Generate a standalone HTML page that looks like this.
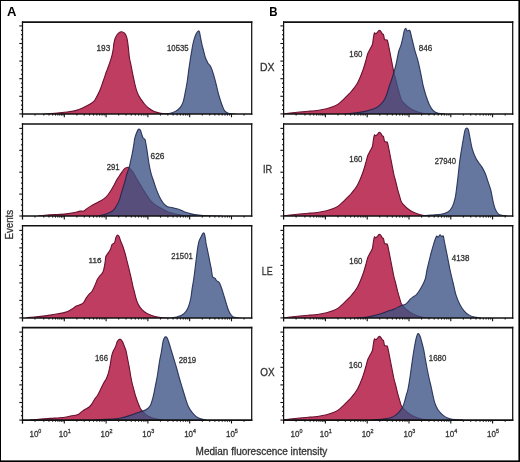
<!DOCTYPE html>
<html><head><meta charset="utf-8"><style>
html,body{margin:0;padding:0;background:#fff;}
body{width:520px;height:462px;overflow:hidden;font-family:"Liberation Sans",sans-serif;}
svg{display:block;will-change:transform;}
</style></head><body>
<svg width="520" height="462" viewBox="0 0 520 462" font-family="Liberation Sans, sans-serif">
<rect x="0" y="0" width="520" height="462" fill="#fff"/>
<defs><clipPath id="pc1"><rect x="22.50" y="22.10" width="229.20" height="91.80"/></clipPath><clipPath id="pc2"><rect x="22.50" y="124.00" width="229.20" height="92.00"/></clipPath><clipPath id="pc3"><rect x="22.50" y="225.80" width="229.20" height="92.10"/></clipPath><clipPath id="pc4"><rect x="22.50" y="327.60" width="229.20" height="92.50"/></clipPath><clipPath id="pc5"><rect x="283.60" y="22.10" width="229.10" height="91.80"/></clipPath><clipPath id="pc6"><rect x="283.60" y="124.00" width="229.10" height="92.00"/></clipPath><clipPath id="pc7"><rect x="283.60" y="225.80" width="229.10" height="92.10"/></clipPath><clipPath id="pc8"><rect x="283.60" y="327.60" width="229.10" height="92.50"/></clipPath></defs>
<g clip-path="url(#pc1)">
<path d="M44.00,114.00 C44.68,113.95 45.85,113.85 48.10,113.70 C50.35,113.55 54.37,113.38 57.50,113.10 C60.63,112.82 63.77,112.45 66.90,112.00 C70.03,111.55 73.60,111.12 76.30,110.40 C79.00,109.68 80.85,108.72 83.10,107.70 C85.35,106.68 88.02,105.38 89.80,104.30 C91.58,103.22 92.90,101.98 93.80,101.20 C94.70,100.42 94.18,101.43 95.20,99.60 C96.22,97.77 98.55,93.33 99.90,90.20 C101.25,87.07 102.23,83.83 103.30,80.80 C104.37,77.77 105.45,74.38 106.30,72.00 C107.15,69.62 107.72,68.38 108.40,66.50 C109.08,64.62 109.80,62.57 110.40,60.70 C111.00,58.83 111.55,57.10 112.00,55.30 C112.45,53.50 112.78,51.88 113.10,49.90 C113.42,47.92 113.53,45.38 113.90,43.40 C114.27,41.42 114.62,39.62 115.30,38.00 C115.98,36.38 117.02,34.75 118.00,33.70 C118.98,32.65 120.12,31.80 121.20,31.70 C122.28,31.60 123.60,32.23 124.50,33.10 C125.40,33.97 126.07,35.37 126.60,36.90 C127.13,38.43 127.37,40.13 127.70,42.30 C128.03,44.47 128.32,47.37 128.60,49.90 C128.88,52.43 129.00,54.98 129.40,57.50 C129.80,60.02 130.57,62.85 131.00,65.00 C131.43,67.15 131.65,68.60 132.00,70.40 C132.35,72.20 132.65,73.63 133.10,75.80 C133.55,77.97 134.15,81.05 134.70,83.40 C135.25,85.75 135.77,87.92 136.40,89.90 C137.03,91.88 137.70,93.68 138.50,95.30 C139.30,96.92 140.20,98.15 141.20,99.60 C142.20,101.05 143.23,102.55 144.50,104.00 C145.77,105.45 147.18,107.05 148.80,108.30 C150.42,109.55 152.22,110.68 154.20,111.50 C156.18,112.32 158.40,112.78 160.70,113.20 C163.00,113.62 166.78,113.87 168.00,114.00 L168.00,114.90 L44.00,114.90 Z" fill="#bf3d60"/>
<path d="M44.00,114.00 C44.68,113.95 45.85,113.85 48.10,113.70 C50.35,113.55 54.37,113.38 57.50,113.10 C60.63,112.82 63.77,112.45 66.90,112.00 C70.03,111.55 73.60,111.12 76.30,110.40 C79.00,109.68 80.85,108.72 83.10,107.70 C85.35,106.68 88.02,105.38 89.80,104.30 C91.58,103.22 92.90,101.98 93.80,101.20 C94.70,100.42 94.18,101.43 95.20,99.60 C96.22,97.77 98.55,93.33 99.90,90.20 C101.25,87.07 102.23,83.83 103.30,80.80 C104.37,77.77 105.45,74.38 106.30,72.00 C107.15,69.62 107.72,68.38 108.40,66.50 C109.08,64.62 109.80,62.57 110.40,60.70 C111.00,58.83 111.55,57.10 112.00,55.30 C112.45,53.50 112.78,51.88 113.10,49.90 C113.42,47.92 113.53,45.38 113.90,43.40 C114.27,41.42 114.62,39.62 115.30,38.00 C115.98,36.38 117.02,34.75 118.00,33.70 C118.98,32.65 120.12,31.80 121.20,31.70 C122.28,31.60 123.60,32.23 124.50,33.10 C125.40,33.97 126.07,35.37 126.60,36.90 C127.13,38.43 127.37,40.13 127.70,42.30 C128.03,44.47 128.32,47.37 128.60,49.90 C128.88,52.43 129.00,54.98 129.40,57.50 C129.80,60.02 130.57,62.85 131.00,65.00 C131.43,67.15 131.65,68.60 132.00,70.40 C132.35,72.20 132.65,73.63 133.10,75.80 C133.55,77.97 134.15,81.05 134.70,83.40 C135.25,85.75 135.77,87.92 136.40,89.90 C137.03,91.88 137.70,93.68 138.50,95.30 C139.30,96.92 140.20,98.15 141.20,99.60 C142.20,101.05 143.23,102.55 144.50,104.00 C145.77,105.45 147.18,107.05 148.80,108.30 C150.42,109.55 152.22,110.68 154.20,111.50 C156.18,112.32 158.40,112.78 160.70,113.20 C163.00,113.62 166.78,113.87 168.00,114.00" fill="none" stroke="#6a1030" stroke-width="1.1" stroke-linejoin="round"/>
<path d="M160.00,114.00 C161.05,113.97 164.57,113.93 166.30,113.80 C168.03,113.67 168.82,113.65 170.40,113.20 C171.98,112.75 174.12,112.12 175.80,111.10 C177.48,110.08 179.27,108.67 180.50,107.10 C181.73,105.53 182.42,104.17 183.20,101.70 C183.98,99.23 184.53,95.67 185.20,92.30 C185.87,88.93 186.63,85.08 187.20,81.50 C187.77,77.92 188.15,74.05 188.60,70.80 C189.05,67.55 189.53,64.47 189.90,62.00 C190.27,59.53 190.48,57.95 190.80,56.00 C191.12,54.05 191.47,52.22 191.80,50.30 C192.13,48.38 192.38,46.45 192.80,44.50 C193.22,42.55 193.73,40.38 194.30,38.60 C194.87,36.82 195.52,35.07 196.20,33.80 C196.88,32.53 197.83,31.25 198.40,31.00 C198.97,30.75 199.23,31.18 199.60,32.30 C199.97,33.42 200.20,35.67 200.60,37.70 C201.00,39.73 201.52,42.40 202.00,44.50 C202.48,46.60 202.93,48.13 203.50,50.30 C204.07,52.47 204.78,55.63 205.40,57.50 C206.02,59.37 206.75,60.52 207.20,61.50 C207.65,62.48 207.50,62.53 208.10,63.40 C208.70,64.27 210.02,65.25 210.80,66.70 C211.58,68.15 212.13,70.08 212.80,72.10 C213.47,74.12 214.13,76.33 214.80,78.80 C215.47,81.27 216.13,84.20 216.80,86.90 C217.47,89.60 218.12,92.53 218.80,95.00 C219.48,97.47 220.22,99.68 220.90,101.70 C221.58,103.72 222.23,105.53 222.90,107.10 C223.57,108.67 224.00,110.08 224.90,111.10 C225.80,112.12 227.07,112.75 228.30,113.20 C229.53,113.65 231.02,113.67 232.30,113.80 C233.58,113.93 235.38,113.97 236.00,114.00 L236.00,114.90 L160.00,114.90 Z" fill="#3b5284" fill-opacity="0.79"/>
<path d="M160.00,114.00 C161.05,113.97 164.57,113.93 166.30,113.80 C168.03,113.67 168.82,113.65 170.40,113.20 C171.98,112.75 174.12,112.12 175.80,111.10 C177.48,110.08 179.27,108.67 180.50,107.10 C181.73,105.53 182.42,104.17 183.20,101.70 C183.98,99.23 184.53,95.67 185.20,92.30 C185.87,88.93 186.63,85.08 187.20,81.50 C187.77,77.92 188.15,74.05 188.60,70.80 C189.05,67.55 189.53,64.47 189.90,62.00 C190.27,59.53 190.48,57.95 190.80,56.00 C191.12,54.05 191.47,52.22 191.80,50.30 C192.13,48.38 192.38,46.45 192.80,44.50 C193.22,42.55 193.73,40.38 194.30,38.60 C194.87,36.82 195.52,35.07 196.20,33.80 C196.88,32.53 197.83,31.25 198.40,31.00 C198.97,30.75 199.23,31.18 199.60,32.30 C199.97,33.42 200.20,35.67 200.60,37.70 C201.00,39.73 201.52,42.40 202.00,44.50 C202.48,46.60 202.93,48.13 203.50,50.30 C204.07,52.47 204.78,55.63 205.40,57.50 C206.02,59.37 206.75,60.52 207.20,61.50 C207.65,62.48 207.50,62.53 208.10,63.40 C208.70,64.27 210.02,65.25 210.80,66.70 C211.58,68.15 212.13,70.08 212.80,72.10 C213.47,74.12 214.13,76.33 214.80,78.80 C215.47,81.27 216.13,84.20 216.80,86.90 C217.47,89.60 218.12,92.53 218.80,95.00 C219.48,97.47 220.22,99.68 220.90,101.70 C221.58,103.72 222.23,105.53 222.90,107.10 C223.57,108.67 224.00,110.08 224.90,111.10 C225.80,112.12 227.07,112.75 228.30,113.20 C229.53,113.65 231.02,113.67 232.30,113.80 C233.58,113.93 235.38,113.97 236.00,114.00" fill="none" stroke="#18224a" stroke-width="1.1" stroke-linejoin="round" stroke-opacity="0.85"/>
</g>
<g clip-path="url(#pc2)">
<path d="M38.00,216.00 C39.17,215.88 42.17,215.53 45.00,215.30 C47.83,215.07 52.50,214.75 55.00,214.60 C57.50,214.45 57.82,214.57 60.00,214.40 C62.18,214.23 65.63,213.92 68.10,213.60 C70.57,213.28 72.78,212.92 74.80,212.50 C76.82,212.08 78.73,211.33 80.20,211.10 C81.67,210.87 82.60,211.43 83.60,211.10 C84.60,210.77 85.08,209.88 86.20,209.10 C87.32,208.32 88.83,207.30 90.30,206.40 C91.77,205.50 93.32,204.60 95.00,203.70 C96.68,202.80 98.83,201.88 100.40,201.00 C101.97,200.12 103.17,199.40 104.40,198.40 C105.63,197.40 106.68,196.35 107.80,195.00 C108.92,193.65 110.10,191.87 111.10,190.30 C112.10,188.73 112.90,187.28 113.80,185.60 C114.70,183.92 115.60,181.77 116.50,180.20 C117.40,178.63 118.30,177.55 119.20,176.20 C120.10,174.85 121.00,173.35 121.90,172.10 C122.80,170.85 123.70,169.48 124.60,168.70 C125.50,167.92 126.62,167.62 127.30,167.40 C127.98,167.18 128.05,166.98 128.70,167.40 C129.35,167.82 130.27,168.77 131.20,169.90 C132.13,171.03 133.28,172.55 134.30,174.20 C135.32,175.85 136.18,177.85 137.30,179.80 C138.42,181.75 139.75,183.85 141.00,185.90 C142.25,187.95 143.35,189.83 144.80,192.10 C146.25,194.37 148.07,197.45 149.70,199.50 C151.33,201.55 152.75,202.97 154.60,204.40 C156.45,205.83 158.53,206.85 160.80,208.10 C163.07,209.35 165.52,210.87 168.20,211.90 C170.88,212.93 174.22,213.68 176.90,214.30 C179.58,214.92 181.28,215.32 184.30,215.60 C187.32,215.88 193.22,215.93 195.00,216.00 L195.00,217.00 L38.00,217.00 Z" fill="#bf3d60"/>
<path d="M38.00,216.00 C39.17,215.88 42.17,215.53 45.00,215.30 C47.83,215.07 52.50,214.75 55.00,214.60 C57.50,214.45 57.82,214.57 60.00,214.40 C62.18,214.23 65.63,213.92 68.10,213.60 C70.57,213.28 72.78,212.92 74.80,212.50 C76.82,212.08 78.73,211.33 80.20,211.10 C81.67,210.87 82.60,211.43 83.60,211.10 C84.60,210.77 85.08,209.88 86.20,209.10 C87.32,208.32 88.83,207.30 90.30,206.40 C91.77,205.50 93.32,204.60 95.00,203.70 C96.68,202.80 98.83,201.88 100.40,201.00 C101.97,200.12 103.17,199.40 104.40,198.40 C105.63,197.40 106.68,196.35 107.80,195.00 C108.92,193.65 110.10,191.87 111.10,190.30 C112.10,188.73 112.90,187.28 113.80,185.60 C114.70,183.92 115.60,181.77 116.50,180.20 C117.40,178.63 118.30,177.55 119.20,176.20 C120.10,174.85 121.00,173.35 121.90,172.10 C122.80,170.85 123.70,169.48 124.60,168.70 C125.50,167.92 126.62,167.62 127.30,167.40 C127.98,167.18 128.05,166.98 128.70,167.40 C129.35,167.82 130.27,168.77 131.20,169.90 C132.13,171.03 133.28,172.55 134.30,174.20 C135.32,175.85 136.18,177.85 137.30,179.80 C138.42,181.75 139.75,183.85 141.00,185.90 C142.25,187.95 143.35,189.83 144.80,192.10 C146.25,194.37 148.07,197.45 149.70,199.50 C151.33,201.55 152.75,202.97 154.60,204.40 C156.45,205.83 158.53,206.85 160.80,208.10 C163.07,209.35 165.52,210.87 168.20,211.90 C170.88,212.93 174.22,213.68 176.90,214.30 C179.58,214.92 181.28,215.32 184.30,215.60 C187.32,215.88 193.22,215.93 195.00,216.00" fill="none" stroke="#6a1030" stroke-width="1.1" stroke-linejoin="round"/>
<path d="M98.00,216.00 C99.07,215.75 102.43,215.08 104.40,214.50 C106.37,213.92 108.23,213.28 109.80,212.50 C111.37,211.72 112.68,210.92 113.80,209.80 C114.92,208.68 115.60,207.37 116.50,205.80 C117.40,204.23 118.42,202.43 119.20,200.40 C119.98,198.37 120.52,195.85 121.20,193.60 C121.88,191.35 122.62,189.13 123.30,186.90 C123.98,184.67 124.75,182.22 125.30,180.20 C125.85,178.18 126.15,176.37 126.60,174.80 C127.05,173.23 127.53,172.18 128.00,170.80 C128.47,169.42 128.93,168.28 129.40,166.50 C129.87,164.72 130.32,162.32 130.80,160.10 C131.28,157.88 131.80,155.80 132.30,153.20 C132.80,150.60 133.40,146.93 133.80,144.50 C134.20,142.07 134.30,140.38 134.70,138.60 C135.10,136.82 135.63,135.30 136.20,133.80 C136.77,132.30 137.62,130.38 138.10,129.60 C138.58,128.82 138.68,128.97 139.10,129.10 C139.52,129.23 140.18,129.62 140.60,130.40 C141.02,131.18 141.20,132.58 141.60,133.80 C142.00,135.02 142.43,136.73 143.00,137.70 C143.57,138.67 144.52,138.63 145.00,139.60 C145.48,140.57 145.58,141.88 145.90,143.50 C146.22,145.12 146.57,147.18 146.90,149.30 C147.23,151.42 147.53,153.75 147.90,156.20 C148.27,158.65 148.70,161.70 149.10,164.00 C149.50,166.30 149.90,168.20 150.30,170.00 C150.70,171.80 150.88,172.77 151.50,174.80 C152.12,176.83 153.17,179.73 154.00,182.20 C154.83,184.67 155.57,187.13 156.50,189.60 C157.43,192.07 158.47,194.73 159.60,197.00 C160.73,199.27 161.97,201.58 163.30,203.20 C164.63,204.82 166.17,205.98 167.60,206.70 C169.03,207.42 170.35,207.15 171.90,207.50 C173.45,207.85 175.25,208.28 176.90,208.80 C178.55,209.32 180.45,210.08 181.80,210.60 C183.15,211.12 183.62,211.40 185.00,211.90 C186.38,212.40 187.78,213.07 190.10,213.60 C192.42,214.13 195.58,214.73 198.90,215.10 C202.22,215.47 206.15,215.65 210.00,215.80 C213.85,215.95 220.00,215.97 222.00,216.00 L222.00,217.00 L98.00,217.00 Z" fill="#3b5284" fill-opacity="0.79"/>
<path d="M98.00,216.00 C99.07,215.75 102.43,215.08 104.40,214.50 C106.37,213.92 108.23,213.28 109.80,212.50 C111.37,211.72 112.68,210.92 113.80,209.80 C114.92,208.68 115.60,207.37 116.50,205.80 C117.40,204.23 118.42,202.43 119.20,200.40 C119.98,198.37 120.52,195.85 121.20,193.60 C121.88,191.35 122.62,189.13 123.30,186.90 C123.98,184.67 124.75,182.22 125.30,180.20 C125.85,178.18 126.15,176.37 126.60,174.80 C127.05,173.23 127.53,172.18 128.00,170.80 C128.47,169.42 128.93,168.28 129.40,166.50 C129.87,164.72 130.32,162.32 130.80,160.10 C131.28,157.88 131.80,155.80 132.30,153.20 C132.80,150.60 133.40,146.93 133.80,144.50 C134.20,142.07 134.30,140.38 134.70,138.60 C135.10,136.82 135.63,135.30 136.20,133.80 C136.77,132.30 137.62,130.38 138.10,129.60 C138.58,128.82 138.68,128.97 139.10,129.10 C139.52,129.23 140.18,129.62 140.60,130.40 C141.02,131.18 141.20,132.58 141.60,133.80 C142.00,135.02 142.43,136.73 143.00,137.70 C143.57,138.67 144.52,138.63 145.00,139.60 C145.48,140.57 145.58,141.88 145.90,143.50 C146.22,145.12 146.57,147.18 146.90,149.30 C147.23,151.42 147.53,153.75 147.90,156.20 C148.27,158.65 148.70,161.70 149.10,164.00 C149.50,166.30 149.90,168.20 150.30,170.00 C150.70,171.80 150.88,172.77 151.50,174.80 C152.12,176.83 153.17,179.73 154.00,182.20 C154.83,184.67 155.57,187.13 156.50,189.60 C157.43,192.07 158.47,194.73 159.60,197.00 C160.73,199.27 161.97,201.58 163.30,203.20 C164.63,204.82 166.17,205.98 167.60,206.70 C169.03,207.42 170.35,207.15 171.90,207.50 C173.45,207.85 175.25,208.28 176.90,208.80 C178.55,209.32 180.45,210.08 181.80,210.60 C183.15,211.12 183.62,211.40 185.00,211.90 C186.38,212.40 187.78,213.07 190.10,213.60 C192.42,214.13 195.58,214.73 198.90,215.10 C202.22,215.47 206.15,215.65 210.00,215.80 C213.85,215.95 220.00,215.97 222.00,216.00" fill="none" stroke="#18224a" stroke-width="1.1" stroke-linejoin="round" stroke-opacity="0.85"/>
</g>
<g clip-path="url(#pc3)">
<path d="M26.00,318.00 C26.67,317.90 27.53,317.67 30.00,317.40 C32.47,317.13 37.43,316.78 40.80,316.40 C44.17,316.02 47.28,315.55 50.20,315.10 C53.12,314.65 55.83,314.15 58.30,313.70 C60.77,313.25 63.10,312.95 65.00,312.40 C66.90,311.85 68.35,311.07 69.70,310.40 C71.05,309.73 71.98,309.12 73.10,308.40 C74.22,307.68 75.07,306.78 76.40,306.10 C77.73,305.42 79.87,304.93 81.10,304.30 C82.33,303.67 82.90,303.42 83.80,302.30 C84.70,301.18 85.60,298.95 86.50,297.60 C87.40,296.25 88.30,295.22 89.20,294.20 C90.10,293.18 91.00,292.83 91.90,291.50 C92.80,290.17 93.70,288.18 94.60,286.20 C95.50,284.22 96.43,281.33 97.30,279.60 C98.17,277.87 99.05,276.77 99.80,275.80 C100.55,274.83 101.17,274.75 101.80,273.80 C102.43,272.85 103.05,272.02 103.60,270.10 C104.15,268.18 104.72,264.57 105.10,262.30 C105.48,260.03 105.38,258.07 105.90,256.50 C106.42,254.93 107.42,254.15 108.20,252.90 C108.98,251.65 109.95,250.42 110.60,249.00 C111.25,247.58 111.45,245.43 112.10,244.40 C112.75,243.37 113.85,243.98 114.50,242.80 C115.15,241.62 115.48,238.60 116.00,237.30 C116.52,236.00 117.08,235.12 117.60,235.00 C118.12,234.88 118.58,235.57 119.10,236.60 C119.62,237.63 120.05,239.52 120.70,241.20 C121.35,242.88 122.22,244.48 123.00,246.70 C123.78,248.92 124.75,252.17 125.40,254.50 C126.05,256.83 126.38,258.63 126.90,260.70 C127.42,262.77 127.98,264.82 128.50,266.90 C129.02,268.98 129.52,271.18 130.00,273.20 C130.48,275.22 130.93,276.90 131.40,279.00 C131.87,281.10 132.32,283.72 132.80,285.80 C133.28,287.88 133.82,289.58 134.30,291.50 C134.78,293.42 135.15,295.37 135.70,297.30 C136.25,299.23 136.80,301.33 137.60,303.10 C138.40,304.87 139.38,306.47 140.50,307.90 C141.62,309.33 142.85,310.58 144.30,311.70 C145.75,312.82 147.43,313.80 149.20,314.60 C150.97,315.40 152.98,316.02 154.90,316.50 C156.82,316.98 158.52,317.25 160.70,317.50 C162.88,317.75 166.78,317.92 168.00,318.00 L168.00,318.90 L26.00,318.90 Z" fill="#bf3d60"/>
<path d="M26.00,318.00 C26.67,317.90 27.53,317.67 30.00,317.40 C32.47,317.13 37.43,316.78 40.80,316.40 C44.17,316.02 47.28,315.55 50.20,315.10 C53.12,314.65 55.83,314.15 58.30,313.70 C60.77,313.25 63.10,312.95 65.00,312.40 C66.90,311.85 68.35,311.07 69.70,310.40 C71.05,309.73 71.98,309.12 73.10,308.40 C74.22,307.68 75.07,306.78 76.40,306.10 C77.73,305.42 79.87,304.93 81.10,304.30 C82.33,303.67 82.90,303.42 83.80,302.30 C84.70,301.18 85.60,298.95 86.50,297.60 C87.40,296.25 88.30,295.22 89.20,294.20 C90.10,293.18 91.00,292.83 91.90,291.50 C92.80,290.17 93.70,288.18 94.60,286.20 C95.50,284.22 96.43,281.33 97.30,279.60 C98.17,277.87 99.05,276.77 99.80,275.80 C100.55,274.83 101.17,274.75 101.80,273.80 C102.43,272.85 103.05,272.02 103.60,270.10 C104.15,268.18 104.72,264.57 105.10,262.30 C105.48,260.03 105.38,258.07 105.90,256.50 C106.42,254.93 107.42,254.15 108.20,252.90 C108.98,251.65 109.95,250.42 110.60,249.00 C111.25,247.58 111.45,245.43 112.10,244.40 C112.75,243.37 113.85,243.98 114.50,242.80 C115.15,241.62 115.48,238.60 116.00,237.30 C116.52,236.00 117.08,235.12 117.60,235.00 C118.12,234.88 118.58,235.57 119.10,236.60 C119.62,237.63 120.05,239.52 120.70,241.20 C121.35,242.88 122.22,244.48 123.00,246.70 C123.78,248.92 124.75,252.17 125.40,254.50 C126.05,256.83 126.38,258.63 126.90,260.70 C127.42,262.77 127.98,264.82 128.50,266.90 C129.02,268.98 129.52,271.18 130.00,273.20 C130.48,275.22 130.93,276.90 131.40,279.00 C131.87,281.10 132.32,283.72 132.80,285.80 C133.28,287.88 133.82,289.58 134.30,291.50 C134.78,293.42 135.15,295.37 135.70,297.30 C136.25,299.23 136.80,301.33 137.60,303.10 C138.40,304.87 139.38,306.47 140.50,307.90 C141.62,309.33 142.85,310.58 144.30,311.70 C145.75,312.82 147.43,313.80 149.20,314.60 C150.97,315.40 152.98,316.02 154.90,316.50 C156.82,316.98 158.52,317.25 160.70,317.50 C162.88,317.75 166.78,317.92 168.00,318.00" fill="none" stroke="#6a1030" stroke-width="1.1" stroke-linejoin="round"/>
<path d="M168.00,318.00 C168.78,317.95 171.25,317.87 172.70,317.70 C174.15,317.53 175.13,317.45 176.70,317.00 C178.27,316.55 180.52,316.00 182.10,315.00 C183.68,314.00 185.08,312.57 186.20,311.00 C187.32,309.43 188.02,307.85 188.80,305.60 C189.58,303.35 190.33,300.42 190.90,297.50 C191.47,294.58 191.73,291.18 192.20,288.10 C192.67,285.02 193.22,282.30 193.70,279.00 C194.18,275.70 194.65,271.88 195.10,268.30 C195.55,264.72 195.95,261.08 196.40,257.50 C196.85,253.92 197.35,249.58 197.80,246.80 C198.25,244.02 198.55,242.48 199.10,240.80 C199.65,239.12 200.43,237.98 201.10,236.70 C201.77,235.42 202.53,233.55 203.10,233.10 C203.67,232.65 204.12,233.07 204.50,234.00 C204.88,234.93 205.12,237.02 205.40,238.70 C205.68,240.38 205.92,242.53 206.20,244.10 C206.48,245.67 206.72,246.32 207.10,248.10 C207.48,249.88 208.05,252.55 208.50,254.80 C208.95,257.05 209.35,259.35 209.80,261.60 C210.25,263.85 210.75,265.85 211.20,268.30 C211.65,270.75 212.05,274.73 212.50,276.30 C212.95,277.87 213.45,277.37 213.90,277.70 C214.35,278.03 214.77,277.83 215.20,278.30 C215.63,278.77 216.05,279.97 216.50,280.50 C216.95,281.03 217.38,281.08 217.90,281.50 C218.42,281.92 219.05,282.07 219.60,283.00 C220.15,283.93 220.72,285.80 221.20,287.10 C221.68,288.40 221.95,289.07 222.50,290.80 C223.05,292.53 223.83,295.27 224.50,297.50 C225.17,299.73 225.83,302.07 226.50,304.20 C227.17,306.33 227.82,308.62 228.50,310.30 C229.18,311.98 229.80,313.18 230.60,314.30 C231.40,315.42 232.18,316.43 233.30,317.00 C234.42,317.57 236.02,317.53 237.30,317.70 C238.58,317.87 240.38,317.95 241.00,318.00 L241.00,318.90 L168.00,318.90 Z" fill="#3b5284" fill-opacity="0.79"/>
<path d="M168.00,318.00 C168.78,317.95 171.25,317.87 172.70,317.70 C174.15,317.53 175.13,317.45 176.70,317.00 C178.27,316.55 180.52,316.00 182.10,315.00 C183.68,314.00 185.08,312.57 186.20,311.00 C187.32,309.43 188.02,307.85 188.80,305.60 C189.58,303.35 190.33,300.42 190.90,297.50 C191.47,294.58 191.73,291.18 192.20,288.10 C192.67,285.02 193.22,282.30 193.70,279.00 C194.18,275.70 194.65,271.88 195.10,268.30 C195.55,264.72 195.95,261.08 196.40,257.50 C196.85,253.92 197.35,249.58 197.80,246.80 C198.25,244.02 198.55,242.48 199.10,240.80 C199.65,239.12 200.43,237.98 201.10,236.70 C201.77,235.42 202.53,233.55 203.10,233.10 C203.67,232.65 204.12,233.07 204.50,234.00 C204.88,234.93 205.12,237.02 205.40,238.70 C205.68,240.38 205.92,242.53 206.20,244.10 C206.48,245.67 206.72,246.32 207.10,248.10 C207.48,249.88 208.05,252.55 208.50,254.80 C208.95,257.05 209.35,259.35 209.80,261.60 C210.25,263.85 210.75,265.85 211.20,268.30 C211.65,270.75 212.05,274.73 212.50,276.30 C212.95,277.87 213.45,277.37 213.90,277.70 C214.35,278.03 214.77,277.83 215.20,278.30 C215.63,278.77 216.05,279.97 216.50,280.50 C216.95,281.03 217.38,281.08 217.90,281.50 C218.42,281.92 219.05,282.07 219.60,283.00 C220.15,283.93 220.72,285.80 221.20,287.10 C221.68,288.40 221.95,289.07 222.50,290.80 C223.05,292.53 223.83,295.27 224.50,297.50 C225.17,299.73 225.83,302.07 226.50,304.20 C227.17,306.33 227.82,308.62 228.50,310.30 C229.18,311.98 229.80,313.18 230.60,314.30 C231.40,315.42 232.18,316.43 233.30,317.00 C234.42,317.57 236.02,317.53 237.30,317.70 C238.58,317.87 240.38,317.95 241.00,318.00" fill="none" stroke="#18224a" stroke-width="1.1" stroke-linejoin="round" stroke-opacity="0.85"/>
</g>
<g clip-path="url(#pc4)">
<path d="M30.00,420.00 C31.80,419.85 37.43,419.37 40.80,419.10 C44.17,418.83 47.07,418.62 50.20,418.40 C53.33,418.18 56.92,418.03 59.60,417.80 C62.28,417.57 64.28,417.33 66.30,417.00 C68.32,416.67 70.12,416.08 71.70,415.80 C73.28,415.52 74.67,415.55 75.80,415.30 C76.93,415.05 77.50,414.92 78.50,414.30 C79.50,413.68 80.68,412.43 81.80,411.60 C82.92,410.77 83.97,410.07 85.20,409.30 C86.43,408.53 88.08,407.90 89.20,407.00 C90.32,406.10 91.00,405.20 91.90,403.90 C92.80,402.60 93.67,400.60 94.60,399.20 C95.53,397.80 96.42,397.32 97.50,395.50 C98.58,393.68 100.00,390.50 101.10,388.30 C102.20,386.10 103.22,383.93 104.10,382.30 C104.98,380.67 105.65,380.15 106.40,378.50 C107.15,376.85 107.97,374.68 108.60,372.40 C109.23,370.12 109.68,367.57 110.20,364.80 C110.72,362.03 111.20,358.07 111.70,355.80 C112.20,353.53 112.57,352.72 113.20,351.20 C113.83,349.68 114.80,348.33 115.50,346.70 C116.20,345.07 116.65,342.67 117.40,341.40 C118.15,340.13 119.18,339.10 120.00,339.10 C120.82,339.10 121.55,340.13 122.30,341.40 C123.05,342.67 123.87,345.07 124.50,346.70 C125.13,348.33 125.58,349.18 126.10,351.20 C126.62,353.22 127.10,356.27 127.60,358.80 C128.10,361.33 128.60,363.62 129.10,366.40 C129.60,369.18 130.10,372.73 130.60,375.50 C131.10,378.27 131.52,380.48 132.10,383.00 C132.68,385.52 133.47,388.27 134.10,390.60 C134.73,392.93 135.23,394.92 135.90,397.00 C136.57,399.08 137.33,401.13 138.10,403.10 C138.87,405.07 139.55,407.20 140.50,408.80 C141.45,410.40 142.43,411.42 143.80,412.70 C145.17,413.98 146.77,415.47 148.70,416.50 C150.63,417.53 153.02,418.32 155.40,418.90 C157.78,419.48 161.73,419.82 163.00,420.00 L163.00,421.10 L30.00,421.10 Z" fill="#bf3d60"/>
<path d="M30.00,420.00 C31.80,419.85 37.43,419.37 40.80,419.10 C44.17,418.83 47.07,418.62 50.20,418.40 C53.33,418.18 56.92,418.03 59.60,417.80 C62.28,417.57 64.28,417.33 66.30,417.00 C68.32,416.67 70.12,416.08 71.70,415.80 C73.28,415.52 74.67,415.55 75.80,415.30 C76.93,415.05 77.50,414.92 78.50,414.30 C79.50,413.68 80.68,412.43 81.80,411.60 C82.92,410.77 83.97,410.07 85.20,409.30 C86.43,408.53 88.08,407.90 89.20,407.00 C90.32,406.10 91.00,405.20 91.90,403.90 C92.80,402.60 93.67,400.60 94.60,399.20 C95.53,397.80 96.42,397.32 97.50,395.50 C98.58,393.68 100.00,390.50 101.10,388.30 C102.20,386.10 103.22,383.93 104.10,382.30 C104.98,380.67 105.65,380.15 106.40,378.50 C107.15,376.85 107.97,374.68 108.60,372.40 C109.23,370.12 109.68,367.57 110.20,364.80 C110.72,362.03 111.20,358.07 111.70,355.80 C112.20,353.53 112.57,352.72 113.20,351.20 C113.83,349.68 114.80,348.33 115.50,346.70 C116.20,345.07 116.65,342.67 117.40,341.40 C118.15,340.13 119.18,339.10 120.00,339.10 C120.82,339.10 121.55,340.13 122.30,341.40 C123.05,342.67 123.87,345.07 124.50,346.70 C125.13,348.33 125.58,349.18 126.10,351.20 C126.62,353.22 127.10,356.27 127.60,358.80 C128.10,361.33 128.60,363.62 129.10,366.40 C129.60,369.18 130.10,372.73 130.60,375.50 C131.10,378.27 131.52,380.48 132.10,383.00 C132.68,385.52 133.47,388.27 134.10,390.60 C134.73,392.93 135.23,394.92 135.90,397.00 C136.57,399.08 137.33,401.13 138.10,403.10 C138.87,405.07 139.55,407.20 140.50,408.80 C141.45,410.40 142.43,411.42 143.80,412.70 C145.17,413.98 146.77,415.47 148.70,416.50 C150.63,417.53 153.02,418.32 155.40,418.90 C157.78,419.48 161.73,419.82 163.00,420.00" fill="none" stroke="#6a1030" stroke-width="1.1" stroke-linejoin="round"/>
<path d="M95.00,420.00 C98.33,419.82 110.70,419.23 115.00,418.90 C119.30,418.57 118.40,418.55 120.80,418.00 C123.20,417.45 126.83,416.40 129.40,415.60 C131.97,414.80 134.12,413.92 136.20,413.20 C138.28,412.48 140.30,411.87 141.90,411.30 C143.50,410.73 144.40,410.77 145.80,409.80 C147.20,408.83 149.07,407.72 150.30,405.50 C151.53,403.28 152.38,399.67 153.20,396.50 C154.02,393.33 154.57,389.67 155.20,386.50 C155.83,383.33 156.48,380.35 157.00,377.50 C157.52,374.65 157.83,372.40 158.30,369.40 C158.77,366.40 159.28,362.45 159.80,359.50 C160.32,356.55 160.90,354.53 161.40,351.70 C161.90,348.87 162.37,344.70 162.80,342.50 C163.23,340.30 163.57,339.43 164.00,338.50 C164.43,337.57 164.87,336.98 165.40,336.90 C165.93,336.82 166.48,336.65 167.20,338.00 C167.92,339.35 169.02,342.92 169.70,345.00 C170.38,347.08 170.65,348.33 171.30,350.50 C171.95,352.67 172.72,355.08 173.60,358.00 C174.48,360.92 175.62,364.58 176.60,368.00 C177.58,371.42 178.52,375.08 179.50,378.50 C180.48,381.92 181.52,385.25 182.50,388.50 C183.48,391.75 184.42,395.00 185.40,398.00 C186.38,401.00 187.25,404.05 188.40,406.50 C189.55,408.95 190.98,411.02 192.30,412.70 C193.62,414.38 195.02,415.62 196.30,416.60 C197.58,417.58 198.38,418.03 200.00,418.60 C201.62,419.17 205.00,419.77 206.00,420.00 L206.00,421.10 L95.00,421.10 Z" fill="#3b5284" fill-opacity="0.79"/>
<path d="M95.00,420.00 C98.33,419.82 110.70,419.23 115.00,418.90 C119.30,418.57 118.40,418.55 120.80,418.00 C123.20,417.45 126.83,416.40 129.40,415.60 C131.97,414.80 134.12,413.92 136.20,413.20 C138.28,412.48 140.30,411.87 141.90,411.30 C143.50,410.73 144.40,410.77 145.80,409.80 C147.20,408.83 149.07,407.72 150.30,405.50 C151.53,403.28 152.38,399.67 153.20,396.50 C154.02,393.33 154.57,389.67 155.20,386.50 C155.83,383.33 156.48,380.35 157.00,377.50 C157.52,374.65 157.83,372.40 158.30,369.40 C158.77,366.40 159.28,362.45 159.80,359.50 C160.32,356.55 160.90,354.53 161.40,351.70 C161.90,348.87 162.37,344.70 162.80,342.50 C163.23,340.30 163.57,339.43 164.00,338.50 C164.43,337.57 164.87,336.98 165.40,336.90 C165.93,336.82 166.48,336.65 167.20,338.00 C167.92,339.35 169.02,342.92 169.70,345.00 C170.38,347.08 170.65,348.33 171.30,350.50 C171.95,352.67 172.72,355.08 173.60,358.00 C174.48,360.92 175.62,364.58 176.60,368.00 C177.58,371.42 178.52,375.08 179.50,378.50 C180.48,381.92 181.52,385.25 182.50,388.50 C183.48,391.75 184.42,395.00 185.40,398.00 C186.38,401.00 187.25,404.05 188.40,406.50 C189.55,408.95 190.98,411.02 192.30,412.70 C193.62,414.38 195.02,415.62 196.30,416.60 C197.58,417.58 198.38,418.03 200.00,418.60 C201.62,419.17 205.00,419.77 206.00,420.00" fill="none" stroke="#18224a" stroke-width="1.1" stroke-linejoin="round" stroke-opacity="0.85"/>
</g>
<g clip-path="url(#pc5)">
<path d="M284.00,114.00 C284.68,113.88 285.88,113.60 288.10,113.30 C290.32,113.00 293.97,112.53 297.30,112.20 C300.63,111.87 304.52,111.63 308.10,111.30 C311.68,110.97 315.73,110.63 318.80,110.20 C321.87,109.77 324.18,109.28 326.50,108.70 C328.82,108.12 330.77,107.47 332.70,106.70 C334.63,105.93 336.43,105.18 338.10,104.10 C339.77,103.02 341.30,101.48 342.70,100.20 C344.10,98.92 345.22,97.68 346.50,96.40 C347.78,95.12 349.12,93.92 350.40,92.50 C351.68,91.08 353.02,89.48 354.20,87.90 C355.38,86.32 356.45,84.90 357.50,83.00 C358.55,81.10 359.58,78.67 360.50,76.50 C361.42,74.33 362.32,71.92 363.00,70.00 C363.68,68.08 364.05,66.87 364.60,65.00 C365.15,63.13 365.77,60.72 366.30,58.80 C366.83,56.88 367.17,55.13 367.80,53.50 C368.43,51.87 369.33,50.50 370.10,49.00 C370.87,47.50 371.88,46.13 372.40,44.50 C372.92,42.87 372.87,41.10 373.20,39.20 C373.53,37.30 373.95,34.00 374.40,33.10 C374.85,32.20 375.40,33.93 375.90,33.80 C376.40,33.67 376.85,32.87 377.40,32.30 C377.95,31.73 378.60,30.52 379.20,30.40 C379.80,30.28 380.50,31.03 381.00,31.60 C381.50,32.17 381.78,33.30 382.20,33.80 C382.62,34.30 383.12,33.70 383.50,34.60 C383.88,35.50 384.08,38.32 384.50,39.20 C384.92,40.08 385.50,39.65 386.00,39.90 C386.50,40.15 386.98,39.32 387.50,40.70 C388.02,42.08 388.58,45.68 389.10,48.20 C389.62,50.72 390.08,53.17 390.60,55.80 C391.12,58.43 391.65,61.22 392.20,64.00 C392.75,66.78 393.33,70.00 393.90,72.50 C394.47,75.00 394.97,76.48 395.60,79.00 C396.23,81.52 396.98,84.90 397.70,87.60 C398.42,90.30 399.27,93.12 399.90,95.20 C400.53,97.28 400.87,98.83 401.50,100.10 C402.13,101.37 402.70,101.73 403.70,102.80 C404.70,103.87 405.97,105.30 407.50,106.50 C409.03,107.70 410.92,109.00 412.90,110.00 C414.88,111.00 417.22,111.87 419.40,112.50 C421.58,113.13 423.90,113.55 426.00,113.80 C428.10,114.05 431.00,113.97 432.00,114.00 L432.00,114.90 L284.00,114.90 Z" fill="#bf3d60"/>
<path d="M284.00,114.00 C284.68,113.88 285.88,113.60 288.10,113.30 C290.32,113.00 293.97,112.53 297.30,112.20 C300.63,111.87 304.52,111.63 308.10,111.30 C311.68,110.97 315.73,110.63 318.80,110.20 C321.87,109.77 324.18,109.28 326.50,108.70 C328.82,108.12 330.77,107.47 332.70,106.70 C334.63,105.93 336.43,105.18 338.10,104.10 C339.77,103.02 341.30,101.48 342.70,100.20 C344.10,98.92 345.22,97.68 346.50,96.40 C347.78,95.12 349.12,93.92 350.40,92.50 C351.68,91.08 353.02,89.48 354.20,87.90 C355.38,86.32 356.45,84.90 357.50,83.00 C358.55,81.10 359.58,78.67 360.50,76.50 C361.42,74.33 362.32,71.92 363.00,70.00 C363.68,68.08 364.05,66.87 364.60,65.00 C365.15,63.13 365.77,60.72 366.30,58.80 C366.83,56.88 367.17,55.13 367.80,53.50 C368.43,51.87 369.33,50.50 370.10,49.00 C370.87,47.50 371.88,46.13 372.40,44.50 C372.92,42.87 372.87,41.10 373.20,39.20 C373.53,37.30 373.95,34.00 374.40,33.10 C374.85,32.20 375.40,33.93 375.90,33.80 C376.40,33.67 376.85,32.87 377.40,32.30 C377.95,31.73 378.60,30.52 379.20,30.40 C379.80,30.28 380.50,31.03 381.00,31.60 C381.50,32.17 381.78,33.30 382.20,33.80 C382.62,34.30 383.12,33.70 383.50,34.60 C383.88,35.50 384.08,38.32 384.50,39.20 C384.92,40.08 385.50,39.65 386.00,39.90 C386.50,40.15 386.98,39.32 387.50,40.70 C388.02,42.08 388.58,45.68 389.10,48.20 C389.62,50.72 390.08,53.17 390.60,55.80 C391.12,58.43 391.65,61.22 392.20,64.00 C392.75,66.78 393.33,70.00 393.90,72.50 C394.47,75.00 394.97,76.48 395.60,79.00 C396.23,81.52 396.98,84.90 397.70,87.60 C398.42,90.30 399.27,93.12 399.90,95.20 C400.53,97.28 400.87,98.83 401.50,100.10 C402.13,101.37 402.70,101.73 403.70,102.80 C404.70,103.87 405.97,105.30 407.50,106.50 C409.03,107.70 410.92,109.00 412.90,110.00 C414.88,111.00 417.22,111.87 419.40,112.50 C421.58,113.13 423.90,113.55 426.00,113.80 C428.10,114.05 431.00,113.97 432.00,114.00" fill="none" stroke="#6a1030" stroke-width="1.1" stroke-linejoin="round"/>
<path d="M345.00,114.00 C346.08,113.88 348.87,113.62 351.50,113.30 C354.13,112.98 357.92,112.58 360.80,112.10 C363.68,111.62 366.30,111.07 368.80,110.40 C371.30,109.73 373.87,109.07 375.80,108.10 C377.73,107.13 378.95,106.03 380.40,104.60 C381.85,103.17 383.40,101.35 384.50,99.50 C385.60,97.65 386.20,95.75 387.00,93.50 C387.80,91.25 388.50,88.42 389.30,86.00 C390.10,83.58 391.02,81.33 391.80,79.00 C392.58,76.67 393.37,74.17 394.00,72.00 C394.63,69.83 395.12,68.00 395.60,66.00 C396.08,64.00 396.35,62.58 396.90,60.00 C397.45,57.42 398.25,52.88 398.90,50.50 C399.55,48.12 400.15,47.82 400.80,45.70 C401.45,43.58 402.23,40.27 402.80,37.80 C403.37,35.33 403.72,32.48 404.20,30.90 C404.68,29.32 405.18,28.30 405.70,28.30 C406.22,28.30 406.80,30.57 407.30,30.90 C407.80,31.23 408.23,30.30 408.70,30.30 C409.17,30.30 409.67,29.98 410.10,30.90 C410.53,31.82 410.78,33.67 411.30,35.80 C411.82,37.93 412.55,41.07 413.20,43.70 C413.85,46.33 414.47,48.98 415.20,51.60 C415.93,54.22 416.88,56.78 417.60,59.40 C418.32,62.02 418.85,64.35 419.50,67.30 C420.15,70.25 420.83,73.82 421.50,77.10 C422.17,80.38 422.68,83.72 423.50,87.00 C424.32,90.28 425.42,93.85 426.40,96.80 C427.38,99.75 428.25,102.40 429.40,104.70 C430.55,107.00 431.83,109.17 433.30,110.60 C434.77,112.03 436.25,112.73 438.20,113.30 C440.15,113.87 443.87,113.88 445.00,114.00 L445.00,114.90 L345.00,114.90 Z" fill="#3b5284" fill-opacity="0.79"/>
<path d="M345.00,114.00 C346.08,113.88 348.87,113.62 351.50,113.30 C354.13,112.98 357.92,112.58 360.80,112.10 C363.68,111.62 366.30,111.07 368.80,110.40 C371.30,109.73 373.87,109.07 375.80,108.10 C377.73,107.13 378.95,106.03 380.40,104.60 C381.85,103.17 383.40,101.35 384.50,99.50 C385.60,97.65 386.20,95.75 387.00,93.50 C387.80,91.25 388.50,88.42 389.30,86.00 C390.10,83.58 391.02,81.33 391.80,79.00 C392.58,76.67 393.37,74.17 394.00,72.00 C394.63,69.83 395.12,68.00 395.60,66.00 C396.08,64.00 396.35,62.58 396.90,60.00 C397.45,57.42 398.25,52.88 398.90,50.50 C399.55,48.12 400.15,47.82 400.80,45.70 C401.45,43.58 402.23,40.27 402.80,37.80 C403.37,35.33 403.72,32.48 404.20,30.90 C404.68,29.32 405.18,28.30 405.70,28.30 C406.22,28.30 406.80,30.57 407.30,30.90 C407.80,31.23 408.23,30.30 408.70,30.30 C409.17,30.30 409.67,29.98 410.10,30.90 C410.53,31.82 410.78,33.67 411.30,35.80 C411.82,37.93 412.55,41.07 413.20,43.70 C413.85,46.33 414.47,48.98 415.20,51.60 C415.93,54.22 416.88,56.78 417.60,59.40 C418.32,62.02 418.85,64.35 419.50,67.30 C420.15,70.25 420.83,73.82 421.50,77.10 C422.17,80.38 422.68,83.72 423.50,87.00 C424.32,90.28 425.42,93.85 426.40,96.80 C427.38,99.75 428.25,102.40 429.40,104.70 C430.55,107.00 431.83,109.17 433.30,110.60 C434.77,112.03 436.25,112.73 438.20,113.30 C440.15,113.87 443.87,113.88 445.00,114.00" fill="none" stroke="#18224a" stroke-width="1.1" stroke-linejoin="round" stroke-opacity="0.85"/>
</g>
<g clip-path="url(#pc6)">
<path d="M284.00,216.00 C284.68,215.88 285.88,215.60 288.10,215.30 C290.32,215.00 293.97,214.53 297.30,214.20 C300.63,213.87 304.52,213.63 308.10,213.30 C311.68,212.97 315.73,212.63 318.80,212.20 C321.87,211.77 324.18,211.28 326.50,210.70 C328.82,210.12 330.77,209.47 332.70,208.70 C334.63,207.93 336.43,207.18 338.10,206.10 C339.77,205.02 341.30,203.48 342.70,202.20 C344.10,200.92 345.22,199.68 346.50,198.40 C347.78,197.12 349.12,195.92 350.40,194.50 C351.68,193.08 353.02,191.48 354.20,189.90 C355.38,188.32 356.45,186.90 357.50,185.00 C358.55,183.10 359.58,180.67 360.50,178.50 C361.42,176.33 362.32,173.92 363.00,172.00 C363.68,170.08 364.05,168.87 364.60,167.00 C365.15,165.13 365.77,162.72 366.30,160.80 C366.83,158.88 367.17,157.13 367.80,155.50 C368.43,153.87 369.33,152.50 370.10,151.00 C370.87,149.50 371.88,148.13 372.40,146.50 C372.92,144.87 372.87,143.10 373.20,141.20 C373.53,139.30 373.95,136.00 374.40,135.10 C374.85,134.20 375.40,135.93 375.90,135.80 C376.40,135.67 376.85,134.87 377.40,134.30 C377.95,133.73 378.60,132.52 379.20,132.40 C379.80,132.28 380.50,133.03 381.00,133.60 C381.50,134.17 381.78,135.30 382.20,135.80 C382.62,136.30 383.12,135.70 383.50,136.60 C383.88,137.50 384.08,140.32 384.50,141.20 C384.92,142.08 385.50,141.65 386.00,141.90 C386.50,142.15 386.98,141.32 387.50,142.70 C388.02,144.08 388.58,147.68 389.10,150.20 C389.62,152.72 390.08,155.17 390.60,157.80 C391.12,160.43 391.65,163.22 392.20,166.00 C392.75,168.78 393.33,172.00 393.90,174.50 C394.47,177.00 394.97,178.48 395.60,181.00 C396.23,183.52 396.98,186.90 397.70,189.60 C398.42,192.30 399.27,195.12 399.90,197.20 C400.53,199.28 400.87,200.83 401.50,202.10 C402.13,203.37 402.70,203.73 403.70,204.80 C404.70,205.87 405.97,207.30 407.50,208.50 C409.03,209.70 410.92,211.00 412.90,212.00 C414.88,213.00 417.22,213.87 419.40,214.50 C421.58,215.13 423.90,215.55 426.00,215.80 C428.10,216.05 431.00,215.97 432.00,216.00 L432.00,217.00 L284.00,217.00 Z" fill="#bf3d60"/>
<path d="M284.00,216.00 C284.68,215.88 285.88,215.60 288.10,215.30 C290.32,215.00 293.97,214.53 297.30,214.20 C300.63,213.87 304.52,213.63 308.10,213.30 C311.68,212.97 315.73,212.63 318.80,212.20 C321.87,211.77 324.18,211.28 326.50,210.70 C328.82,210.12 330.77,209.47 332.70,208.70 C334.63,207.93 336.43,207.18 338.10,206.10 C339.77,205.02 341.30,203.48 342.70,202.20 C344.10,200.92 345.22,199.68 346.50,198.40 C347.78,197.12 349.12,195.92 350.40,194.50 C351.68,193.08 353.02,191.48 354.20,189.90 C355.38,188.32 356.45,186.90 357.50,185.00 C358.55,183.10 359.58,180.67 360.50,178.50 C361.42,176.33 362.32,173.92 363.00,172.00 C363.68,170.08 364.05,168.87 364.60,167.00 C365.15,165.13 365.77,162.72 366.30,160.80 C366.83,158.88 367.17,157.13 367.80,155.50 C368.43,153.87 369.33,152.50 370.10,151.00 C370.87,149.50 371.88,148.13 372.40,146.50 C372.92,144.87 372.87,143.10 373.20,141.20 C373.53,139.30 373.95,136.00 374.40,135.10 C374.85,134.20 375.40,135.93 375.90,135.80 C376.40,135.67 376.85,134.87 377.40,134.30 C377.95,133.73 378.60,132.52 379.20,132.40 C379.80,132.28 380.50,133.03 381.00,133.60 C381.50,134.17 381.78,135.30 382.20,135.80 C382.62,136.30 383.12,135.70 383.50,136.60 C383.88,137.50 384.08,140.32 384.50,141.20 C384.92,142.08 385.50,141.65 386.00,141.90 C386.50,142.15 386.98,141.32 387.50,142.70 C388.02,144.08 388.58,147.68 389.10,150.20 C389.62,152.72 390.08,155.17 390.60,157.80 C391.12,160.43 391.65,163.22 392.20,166.00 C392.75,168.78 393.33,172.00 393.90,174.50 C394.47,177.00 394.97,178.48 395.60,181.00 C396.23,183.52 396.98,186.90 397.70,189.60 C398.42,192.30 399.27,195.12 399.90,197.20 C400.53,199.28 400.87,200.83 401.50,202.10 C402.13,203.37 402.70,203.73 403.70,204.80 C404.70,205.87 405.97,207.30 407.50,208.50 C409.03,209.70 410.92,211.00 412.90,212.00 C414.88,213.00 417.22,213.87 419.40,214.50 C421.58,215.13 423.90,215.55 426.00,215.80 C428.10,216.05 431.00,215.97 432.00,216.00" fill="none" stroke="#6a1030" stroke-width="1.1" stroke-linejoin="round"/>
<path d="M422.00,216.00 C423.53,215.85 428.02,215.40 431.20,215.10 C434.38,214.80 438.33,214.72 441.10,214.20 C443.87,213.68 445.95,213.22 447.80,212.00 C449.65,210.78 450.98,209.22 452.20,206.90 C453.42,204.58 454.37,201.23 455.10,198.10 C455.83,194.97 456.08,191.97 456.60,188.10 C457.12,184.23 457.72,179.13 458.20,174.90 C458.68,170.67 459.03,166.40 459.50,162.70 C459.97,159.00 460.38,156.57 461.00,152.70 C461.62,148.83 462.53,143.25 463.20,139.50 C463.87,135.75 464.43,132.12 465.00,130.20 C465.57,128.28 466.05,128.12 466.60,128.00 C467.15,127.88 467.75,127.95 468.30,129.50 C468.85,131.05 469.27,134.17 469.90,137.30 C470.53,140.43 471.18,144.98 472.10,148.30 C473.02,151.62 474.30,154.80 475.40,157.20 C476.50,159.60 477.60,161.05 478.70,162.70 C479.80,164.35 480.88,165.25 482.00,167.10 C483.12,168.95 484.28,171.03 485.40,173.80 C486.52,176.57 487.78,180.95 488.70,183.70 C489.62,186.45 490.17,187.35 490.90,190.30 C491.63,193.25 492.37,198.27 493.10,201.40 C493.83,204.53 494.38,206.97 495.30,209.10 C496.22,211.23 497.50,213.17 498.60,214.20 C499.70,215.23 500.50,215.00 501.90,215.30 C503.30,215.60 506.15,215.88 507.00,216.00 L507.00,217.00 L422.00,217.00 Z" fill="#3b5284" fill-opacity="0.79"/>
<path d="M422.00,216.00 C423.53,215.85 428.02,215.40 431.20,215.10 C434.38,214.80 438.33,214.72 441.10,214.20 C443.87,213.68 445.95,213.22 447.80,212.00 C449.65,210.78 450.98,209.22 452.20,206.90 C453.42,204.58 454.37,201.23 455.10,198.10 C455.83,194.97 456.08,191.97 456.60,188.10 C457.12,184.23 457.72,179.13 458.20,174.90 C458.68,170.67 459.03,166.40 459.50,162.70 C459.97,159.00 460.38,156.57 461.00,152.70 C461.62,148.83 462.53,143.25 463.20,139.50 C463.87,135.75 464.43,132.12 465.00,130.20 C465.57,128.28 466.05,128.12 466.60,128.00 C467.15,127.88 467.75,127.95 468.30,129.50 C468.85,131.05 469.27,134.17 469.90,137.30 C470.53,140.43 471.18,144.98 472.10,148.30 C473.02,151.62 474.30,154.80 475.40,157.20 C476.50,159.60 477.60,161.05 478.70,162.70 C479.80,164.35 480.88,165.25 482.00,167.10 C483.12,168.95 484.28,171.03 485.40,173.80 C486.52,176.57 487.78,180.95 488.70,183.70 C489.62,186.45 490.17,187.35 490.90,190.30 C491.63,193.25 492.37,198.27 493.10,201.40 C493.83,204.53 494.38,206.97 495.30,209.10 C496.22,211.23 497.50,213.17 498.60,214.20 C499.70,215.23 500.50,215.00 501.90,215.30 C503.30,215.60 506.15,215.88 507.00,216.00" fill="none" stroke="#18224a" stroke-width="1.1" stroke-linejoin="round" stroke-opacity="0.85"/>
</g>
<g clip-path="url(#pc7)">
<path d="M284.00,318.00 C284.68,317.88 285.88,317.60 288.10,317.30 C290.32,317.00 293.97,316.53 297.30,316.20 C300.63,315.87 304.52,315.63 308.10,315.30 C311.68,314.97 315.73,314.63 318.80,314.20 C321.87,313.77 324.18,313.28 326.50,312.70 C328.82,312.12 330.77,311.47 332.70,310.70 C334.63,309.93 336.43,309.18 338.10,308.10 C339.77,307.02 341.30,305.48 342.70,304.20 C344.10,302.92 345.22,301.68 346.50,300.40 C347.78,299.12 349.12,297.92 350.40,296.50 C351.68,295.08 353.02,293.48 354.20,291.90 C355.38,290.32 356.45,288.90 357.50,287.00 C358.55,285.10 359.58,282.67 360.50,280.50 C361.42,278.33 362.32,275.92 363.00,274.00 C363.68,272.08 364.05,270.87 364.60,269.00 C365.15,267.13 365.77,264.72 366.30,262.80 C366.83,260.88 367.17,259.13 367.80,257.50 C368.43,255.87 369.33,254.50 370.10,253.00 C370.87,251.50 371.88,250.13 372.40,248.50 C372.92,246.87 372.87,245.10 373.20,243.20 C373.53,241.30 373.95,238.00 374.40,237.10 C374.85,236.20 375.40,237.93 375.90,237.80 C376.40,237.67 376.85,236.87 377.40,236.30 C377.95,235.73 378.60,234.52 379.20,234.40 C379.80,234.28 380.50,235.03 381.00,235.60 C381.50,236.17 381.78,237.30 382.20,237.80 C382.62,238.30 383.12,237.70 383.50,238.60 C383.88,239.50 384.08,242.32 384.50,243.20 C384.92,244.08 385.50,243.65 386.00,243.90 C386.50,244.15 386.98,243.32 387.50,244.70 C388.02,246.08 388.58,249.68 389.10,252.20 C389.62,254.72 390.08,257.17 390.60,259.80 C391.12,262.43 391.65,265.22 392.20,268.00 C392.75,270.78 393.33,274.00 393.90,276.50 C394.47,279.00 394.97,280.48 395.60,283.00 C396.23,285.52 396.98,288.90 397.70,291.60 C398.42,294.30 399.27,297.12 399.90,299.20 C400.53,301.28 400.87,302.83 401.50,304.10 C402.13,305.37 402.70,305.73 403.70,306.80 C404.70,307.87 405.97,309.30 407.50,310.50 C409.03,311.70 410.92,313.00 412.90,314.00 C414.88,315.00 417.22,315.87 419.40,316.50 C421.58,317.13 423.90,317.55 426.00,317.80 C428.10,318.05 431.00,317.97 432.00,318.00 L432.00,318.90 L284.00,318.90 Z" fill="#bf3d60"/>
<path d="M284.00,318.00 C284.68,317.88 285.88,317.60 288.10,317.30 C290.32,317.00 293.97,316.53 297.30,316.20 C300.63,315.87 304.52,315.63 308.10,315.30 C311.68,314.97 315.73,314.63 318.80,314.20 C321.87,313.77 324.18,313.28 326.50,312.70 C328.82,312.12 330.77,311.47 332.70,310.70 C334.63,309.93 336.43,309.18 338.10,308.10 C339.77,307.02 341.30,305.48 342.70,304.20 C344.10,302.92 345.22,301.68 346.50,300.40 C347.78,299.12 349.12,297.92 350.40,296.50 C351.68,295.08 353.02,293.48 354.20,291.90 C355.38,290.32 356.45,288.90 357.50,287.00 C358.55,285.10 359.58,282.67 360.50,280.50 C361.42,278.33 362.32,275.92 363.00,274.00 C363.68,272.08 364.05,270.87 364.60,269.00 C365.15,267.13 365.77,264.72 366.30,262.80 C366.83,260.88 367.17,259.13 367.80,257.50 C368.43,255.87 369.33,254.50 370.10,253.00 C370.87,251.50 371.88,250.13 372.40,248.50 C372.92,246.87 372.87,245.10 373.20,243.20 C373.53,241.30 373.95,238.00 374.40,237.10 C374.85,236.20 375.40,237.93 375.90,237.80 C376.40,237.67 376.85,236.87 377.40,236.30 C377.95,235.73 378.60,234.52 379.20,234.40 C379.80,234.28 380.50,235.03 381.00,235.60 C381.50,236.17 381.78,237.30 382.20,237.80 C382.62,238.30 383.12,237.70 383.50,238.60 C383.88,239.50 384.08,242.32 384.50,243.20 C384.92,244.08 385.50,243.65 386.00,243.90 C386.50,244.15 386.98,243.32 387.50,244.70 C388.02,246.08 388.58,249.68 389.10,252.20 C389.62,254.72 390.08,257.17 390.60,259.80 C391.12,262.43 391.65,265.22 392.20,268.00 C392.75,270.78 393.33,274.00 393.90,276.50 C394.47,279.00 394.97,280.48 395.60,283.00 C396.23,285.52 396.98,288.90 397.70,291.60 C398.42,294.30 399.27,297.12 399.90,299.20 C400.53,301.28 400.87,302.83 401.50,304.10 C402.13,305.37 402.70,305.73 403.70,306.80 C404.70,307.87 405.97,309.30 407.50,310.50 C409.03,311.70 410.92,313.00 412.90,314.00 C414.88,315.00 417.22,315.87 419.40,316.50 C421.58,317.13 423.90,317.55 426.00,317.80 C428.10,318.05 431.00,317.97 432.00,318.00" fill="none" stroke="#6a1030" stroke-width="1.1" stroke-linejoin="round"/>
<path d="M355.00,318.00 C357.00,317.85 363.15,317.68 367.00,317.10 C370.85,316.52 374.60,315.50 378.10,314.50 C381.60,313.50 385.27,312.03 388.00,311.10 C390.73,310.17 392.33,309.80 394.50,308.90 C396.67,308.00 399.28,306.42 401.00,305.70 C402.72,304.98 403.72,305.15 404.80,304.60 C405.88,304.05 406.60,303.30 407.50,302.40 C408.40,301.50 409.30,300.10 410.20,299.20 C411.10,298.30 411.92,297.72 412.90,297.00 C413.88,296.28 415.02,295.98 416.10,294.90 C417.18,293.82 418.32,292.13 419.40,290.50 C420.48,288.87 421.62,287.08 422.60,285.10 C423.58,283.12 424.58,281.08 425.30,278.60 C426.02,276.12 426.28,273.07 426.90,270.20 C427.52,267.33 428.28,264.35 429.00,261.40 C429.72,258.45 430.47,255.27 431.20,252.50 C431.93,249.73 432.73,247.00 433.40,244.80 C434.07,242.60 434.65,240.77 435.20,239.30 C435.75,237.83 436.20,236.37 436.70,236.00 C437.20,235.63 437.65,237.30 438.20,237.10 C438.75,236.90 439.40,234.88 440.00,234.80 C440.60,234.72 441.25,236.40 441.80,236.60 C442.35,236.80 442.87,235.18 443.30,236.00 C443.73,236.82 443.92,239.12 444.40,241.50 C444.88,243.88 445.53,246.98 446.20,250.30 C446.87,253.62 447.67,257.72 448.40,261.40 C449.13,265.08 449.78,268.72 450.60,272.40 C451.42,276.08 452.42,279.80 453.30,283.50 C454.18,287.20 454.80,291.10 455.90,294.60 C457.00,298.10 458.50,301.75 459.90,304.50 C461.30,307.25 462.82,309.37 464.30,311.10 C465.78,312.83 467.13,313.90 468.80,314.90 C470.47,315.90 472.27,316.58 474.30,317.10 C476.33,317.62 479.88,317.85 481.00,318.00 L481.00,318.90 L355.00,318.90 Z" fill="#3b5284" fill-opacity="0.79"/>
<path d="M355.00,318.00 C357.00,317.85 363.15,317.68 367.00,317.10 C370.85,316.52 374.60,315.50 378.10,314.50 C381.60,313.50 385.27,312.03 388.00,311.10 C390.73,310.17 392.33,309.80 394.50,308.90 C396.67,308.00 399.28,306.42 401.00,305.70 C402.72,304.98 403.72,305.15 404.80,304.60 C405.88,304.05 406.60,303.30 407.50,302.40 C408.40,301.50 409.30,300.10 410.20,299.20 C411.10,298.30 411.92,297.72 412.90,297.00 C413.88,296.28 415.02,295.98 416.10,294.90 C417.18,293.82 418.32,292.13 419.40,290.50 C420.48,288.87 421.62,287.08 422.60,285.10 C423.58,283.12 424.58,281.08 425.30,278.60 C426.02,276.12 426.28,273.07 426.90,270.20 C427.52,267.33 428.28,264.35 429.00,261.40 C429.72,258.45 430.47,255.27 431.20,252.50 C431.93,249.73 432.73,247.00 433.40,244.80 C434.07,242.60 434.65,240.77 435.20,239.30 C435.75,237.83 436.20,236.37 436.70,236.00 C437.20,235.63 437.65,237.30 438.20,237.10 C438.75,236.90 439.40,234.88 440.00,234.80 C440.60,234.72 441.25,236.40 441.80,236.60 C442.35,236.80 442.87,235.18 443.30,236.00 C443.73,236.82 443.92,239.12 444.40,241.50 C444.88,243.88 445.53,246.98 446.20,250.30 C446.87,253.62 447.67,257.72 448.40,261.40 C449.13,265.08 449.78,268.72 450.60,272.40 C451.42,276.08 452.42,279.80 453.30,283.50 C454.18,287.20 454.80,291.10 455.90,294.60 C457.00,298.10 458.50,301.75 459.90,304.50 C461.30,307.25 462.82,309.37 464.30,311.10 C465.78,312.83 467.13,313.90 468.80,314.90 C470.47,315.90 472.27,316.58 474.30,317.10 C476.33,317.62 479.88,317.85 481.00,318.00" fill="none" stroke="#18224a" stroke-width="1.1" stroke-linejoin="round" stroke-opacity="0.85"/>
</g>
<g clip-path="url(#pc8)">
<path d="M284.00,420.00 C284.68,419.88 285.88,419.60 288.10,419.30 C290.32,419.00 293.97,418.53 297.30,418.20 C300.63,417.87 304.52,417.63 308.10,417.30 C311.68,416.97 315.73,416.63 318.80,416.20 C321.87,415.77 324.18,415.28 326.50,414.70 C328.82,414.12 330.77,413.47 332.70,412.70 C334.63,411.93 336.43,411.18 338.10,410.10 C339.77,409.02 341.30,407.48 342.70,406.20 C344.10,404.92 345.22,403.68 346.50,402.40 C347.78,401.12 349.12,399.92 350.40,398.50 C351.68,397.08 353.02,395.48 354.20,393.90 C355.38,392.32 356.45,390.90 357.50,389.00 C358.55,387.10 359.58,384.67 360.50,382.50 C361.42,380.33 362.32,377.92 363.00,376.00 C363.68,374.08 364.05,372.87 364.60,371.00 C365.15,369.13 365.77,366.72 366.30,364.80 C366.83,362.88 367.17,361.13 367.80,359.50 C368.43,357.87 369.33,356.50 370.10,355.00 C370.87,353.50 371.88,352.13 372.40,350.50 C372.92,348.87 372.87,347.10 373.20,345.20 C373.53,343.30 373.95,340.00 374.40,339.10 C374.85,338.20 375.40,339.93 375.90,339.80 C376.40,339.67 376.85,338.87 377.40,338.30 C377.95,337.73 378.60,336.52 379.20,336.40 C379.80,336.28 380.50,337.03 381.00,337.60 C381.50,338.17 381.78,339.30 382.20,339.80 C382.62,340.30 383.12,339.70 383.50,340.60 C383.88,341.50 384.08,344.32 384.50,345.20 C384.92,346.08 385.50,345.65 386.00,345.90 C386.50,346.15 386.98,345.32 387.50,346.70 C388.02,348.08 388.58,351.68 389.10,354.20 C389.62,356.72 390.08,359.17 390.60,361.80 C391.12,364.43 391.65,367.22 392.20,370.00 C392.75,372.78 393.33,376.00 393.90,378.50 C394.47,381.00 394.97,382.48 395.60,385.00 C396.23,387.52 396.98,390.90 397.70,393.60 C398.42,396.30 399.27,399.12 399.90,401.20 C400.53,403.28 400.87,404.83 401.50,406.10 C402.13,407.37 402.70,407.73 403.70,408.80 C404.70,409.87 405.97,411.30 407.50,412.50 C409.03,413.70 410.92,415.00 412.90,416.00 C414.88,417.00 417.22,417.87 419.40,418.50 C421.58,419.13 423.90,419.55 426.00,419.80 C428.10,420.05 431.00,419.97 432.00,420.00 L432.00,421.10 L284.00,421.10 Z" fill="#bf3d60"/>
<path d="M284.00,420.00 C284.68,419.88 285.88,419.60 288.10,419.30 C290.32,419.00 293.97,418.53 297.30,418.20 C300.63,417.87 304.52,417.63 308.10,417.30 C311.68,416.97 315.73,416.63 318.80,416.20 C321.87,415.77 324.18,415.28 326.50,414.70 C328.82,414.12 330.77,413.47 332.70,412.70 C334.63,411.93 336.43,411.18 338.10,410.10 C339.77,409.02 341.30,407.48 342.70,406.20 C344.10,404.92 345.22,403.68 346.50,402.40 C347.78,401.12 349.12,399.92 350.40,398.50 C351.68,397.08 353.02,395.48 354.20,393.90 C355.38,392.32 356.45,390.90 357.50,389.00 C358.55,387.10 359.58,384.67 360.50,382.50 C361.42,380.33 362.32,377.92 363.00,376.00 C363.68,374.08 364.05,372.87 364.60,371.00 C365.15,369.13 365.77,366.72 366.30,364.80 C366.83,362.88 367.17,361.13 367.80,359.50 C368.43,357.87 369.33,356.50 370.10,355.00 C370.87,353.50 371.88,352.13 372.40,350.50 C372.92,348.87 372.87,347.10 373.20,345.20 C373.53,343.30 373.95,340.00 374.40,339.10 C374.85,338.20 375.40,339.93 375.90,339.80 C376.40,339.67 376.85,338.87 377.40,338.30 C377.95,337.73 378.60,336.52 379.20,336.40 C379.80,336.28 380.50,337.03 381.00,337.60 C381.50,338.17 381.78,339.30 382.20,339.80 C382.62,340.30 383.12,339.70 383.50,340.60 C383.88,341.50 384.08,344.32 384.50,345.20 C384.92,346.08 385.50,345.65 386.00,345.90 C386.50,346.15 386.98,345.32 387.50,346.70 C388.02,348.08 388.58,351.68 389.10,354.20 C389.62,356.72 390.08,359.17 390.60,361.80 C391.12,364.43 391.65,367.22 392.20,370.00 C392.75,372.78 393.33,376.00 393.90,378.50 C394.47,381.00 394.97,382.48 395.60,385.00 C396.23,387.52 396.98,390.90 397.70,393.60 C398.42,396.30 399.27,399.12 399.90,401.20 C400.53,403.28 400.87,404.83 401.50,406.10 C402.13,407.37 402.70,407.73 403.70,408.80 C404.70,409.87 405.97,411.30 407.50,412.50 C409.03,413.70 410.92,415.00 412.90,416.00 C414.88,417.00 417.22,417.87 419.40,418.50 C421.58,419.13 423.90,419.55 426.00,419.80 C428.10,420.05 431.00,419.97 432.00,420.00" fill="none" stroke="#6a1030" stroke-width="1.1" stroke-linejoin="round"/>
<path d="M372.00,420.00 C373.75,419.85 379.27,419.50 382.50,419.10 C385.73,418.70 388.82,418.60 391.40,417.60 C393.98,416.60 396.17,414.77 398.00,413.10 C399.83,411.43 401.23,409.78 402.40,407.60 C403.57,405.42 404.35,402.10 405.00,400.00 C405.65,397.90 405.78,396.92 406.30,395.00 C406.82,393.08 407.47,391.60 408.10,388.50 C408.73,385.40 409.50,380.35 410.10,376.40 C410.70,372.45 411.20,368.37 411.70,364.80 C412.20,361.23 412.63,358.05 413.10,355.00 C413.57,351.95 414.00,349.25 414.50,346.50 C415.00,343.75 415.63,340.45 416.10,338.50 C416.57,336.55 416.92,335.63 417.30,334.80 C417.68,333.97 417.93,333.27 418.40,333.50 C418.87,333.73 419.58,334.95 420.10,336.20 C420.62,337.45 421.05,339.37 421.50,341.00 C421.95,342.63 422.38,344.33 422.80,346.00 C423.22,347.67 423.60,348.97 424.00,351.00 C424.40,353.03 424.67,355.20 425.20,358.20 C425.73,361.20 426.52,365.53 427.20,369.00 C427.88,372.47 428.62,375.92 429.30,379.00 C429.98,382.08 430.68,384.75 431.30,387.50 C431.92,390.25 432.38,392.83 433.00,395.50 C433.62,398.17 434.17,401.12 435.00,403.50 C435.83,405.88 436.92,408.08 438.00,409.80 C439.08,411.52 440.27,412.62 441.50,413.80 C442.73,414.98 443.98,416.07 445.40,416.90 C446.82,417.73 448.23,418.35 450.00,418.80 C451.77,419.25 453.83,419.40 456.00,419.60 C458.17,419.80 461.83,419.93 463.00,420.00 L463.00,421.10 L372.00,421.10 Z" fill="#3b5284" fill-opacity="0.79"/>
<path d="M372.00,420.00 C373.75,419.85 379.27,419.50 382.50,419.10 C385.73,418.70 388.82,418.60 391.40,417.60 C393.98,416.60 396.17,414.77 398.00,413.10 C399.83,411.43 401.23,409.78 402.40,407.60 C403.57,405.42 404.35,402.10 405.00,400.00 C405.65,397.90 405.78,396.92 406.30,395.00 C406.82,393.08 407.47,391.60 408.10,388.50 C408.73,385.40 409.50,380.35 410.10,376.40 C410.70,372.45 411.20,368.37 411.70,364.80 C412.20,361.23 412.63,358.05 413.10,355.00 C413.57,351.95 414.00,349.25 414.50,346.50 C415.00,343.75 415.63,340.45 416.10,338.50 C416.57,336.55 416.92,335.63 417.30,334.80 C417.68,333.97 417.93,333.27 418.40,333.50 C418.87,333.73 419.58,334.95 420.10,336.20 C420.62,337.45 421.05,339.37 421.50,341.00 C421.95,342.63 422.38,344.33 422.80,346.00 C423.22,347.67 423.60,348.97 424.00,351.00 C424.40,353.03 424.67,355.20 425.20,358.20 C425.73,361.20 426.52,365.53 427.20,369.00 C427.88,372.47 428.62,375.92 429.30,379.00 C429.98,382.08 430.68,384.75 431.30,387.50 C431.92,390.25 432.38,392.83 433.00,395.50 C433.62,398.17 434.17,401.12 435.00,403.50 C435.83,405.88 436.92,408.08 438.00,409.80 C439.08,411.52 440.27,412.62 441.50,413.80 C442.73,414.98 443.98,416.07 445.40,416.90 C446.82,417.73 448.23,418.35 450.00,418.80 C451.77,419.25 453.83,419.40 456.00,419.60 C458.17,419.80 461.83,419.93 463.00,420.00" fill="none" stroke="#18224a" stroke-width="1.1" stroke-linejoin="round" stroke-opacity="0.85"/>
</g>
<line x1="21.88" y1="22.10" x2="252.32" y2="22.10" stroke="#111" stroke-width="1.55"/>
<line x1="21.88" y1="113.90" x2="252.32" y2="113.90" stroke="#111" stroke-width="1.55"/>
<line x1="22.50" y1="21.33" x2="22.50" y2="117.50" stroke="#111" stroke-width="1.25"/>
<line x1="251.70" y1="21.33" x2="251.70" y2="114.68" stroke="#111" stroke-width="1.25"/>
<line x1="19.30" y1="113.90" x2="22.50" y2="113.90" stroke="#111" stroke-width="1.10"/>
<line x1="20.90" y1="109.50" x2="22.50" y2="109.50" stroke="#111" stroke-width="1.10"/>
<line x1="20.90" y1="105.10" x2="22.50" y2="105.10" stroke="#111" stroke-width="1.10"/>
<line x1="20.90" y1="100.70" x2="22.50" y2="100.70" stroke="#111" stroke-width="1.10"/>
<line x1="19.30" y1="96.30" x2="22.50" y2="96.30" stroke="#111" stroke-width="1.10"/>
<line x1="20.90" y1="91.90" x2="22.50" y2="91.90" stroke="#111" stroke-width="1.10"/>
<line x1="20.90" y1="87.50" x2="22.50" y2="87.50" stroke="#111" stroke-width="1.10"/>
<line x1="20.90" y1="83.10" x2="22.50" y2="83.10" stroke="#111" stroke-width="1.10"/>
<line x1="19.30" y1="78.70" x2="22.50" y2="78.70" stroke="#111" stroke-width="1.10"/>
<line x1="20.90" y1="74.30" x2="22.50" y2="74.30" stroke="#111" stroke-width="1.10"/>
<line x1="20.90" y1="69.90" x2="22.50" y2="69.90" stroke="#111" stroke-width="1.10"/>
<line x1="20.90" y1="65.50" x2="22.50" y2="65.50" stroke="#111" stroke-width="1.10"/>
<line x1="19.30" y1="61.10" x2="22.50" y2="61.10" stroke="#111" stroke-width="1.10"/>
<line x1="20.90" y1="56.70" x2="22.50" y2="56.70" stroke="#111" stroke-width="1.10"/>
<line x1="20.90" y1="52.30" x2="22.50" y2="52.30" stroke="#111" stroke-width="1.10"/>
<line x1="20.90" y1="47.90" x2="22.50" y2="47.90" stroke="#111" stroke-width="1.10"/>
<line x1="19.30" y1="43.50" x2="22.50" y2="43.50" stroke="#111" stroke-width="1.10"/>
<line x1="20.90" y1="39.10" x2="22.50" y2="39.10" stroke="#111" stroke-width="1.10"/>
<line x1="20.90" y1="34.70" x2="22.50" y2="34.70" stroke="#111" stroke-width="1.10"/>
<line x1="20.90" y1="30.30" x2="22.50" y2="30.30" stroke="#111" stroke-width="1.10"/>
<line x1="19.30" y1="25.90" x2="22.50" y2="25.90" stroke="#111" stroke-width="1.10"/>
<line x1="35.00" y1="113.90" x2="35.00" y2="115.50" stroke="#111" stroke-width="1.10"/>
<line x1="43.82" y1="113.90" x2="43.82" y2="115.50" stroke="#111" stroke-width="1.10"/>
<line x1="48.98" y1="113.90" x2="48.98" y2="115.50" stroke="#111" stroke-width="1.10"/>
<line x1="52.64" y1="113.90" x2="52.64" y2="115.50" stroke="#111" stroke-width="1.10"/>
<line x1="55.48" y1="113.90" x2="55.48" y2="115.50" stroke="#111" stroke-width="1.10"/>
<line x1="57.80" y1="113.90" x2="57.80" y2="115.50" stroke="#111" stroke-width="1.10"/>
<line x1="59.76" y1="113.90" x2="59.76" y2="115.50" stroke="#111" stroke-width="1.10"/>
<line x1="61.46" y1="113.90" x2="61.46" y2="115.50" stroke="#111" stroke-width="1.10"/>
<line x1="62.96" y1="113.90" x2="62.96" y2="115.50" stroke="#111" stroke-width="1.10"/>
<line x1="64.30" y1="113.90" x2="64.30" y2="117.30" stroke="#111" stroke-width="1.10"/>
<line x1="76.88" y1="113.90" x2="76.88" y2="115.50" stroke="#111" stroke-width="1.10"/>
<line x1="84.24" y1="113.90" x2="84.24" y2="115.50" stroke="#111" stroke-width="1.10"/>
<line x1="89.47" y1="113.90" x2="89.47" y2="115.50" stroke="#111" stroke-width="1.10"/>
<line x1="93.52" y1="113.90" x2="93.52" y2="115.50" stroke="#111" stroke-width="1.10"/>
<line x1="96.83" y1="113.90" x2="96.83" y2="115.50" stroke="#111" stroke-width="1.10"/>
<line x1="99.63" y1="113.90" x2="99.63" y2="115.50" stroke="#111" stroke-width="1.10"/>
<line x1="102.05" y1="113.90" x2="102.05" y2="115.50" stroke="#111" stroke-width="1.10"/>
<line x1="104.19" y1="113.90" x2="104.19" y2="115.50" stroke="#111" stroke-width="1.10"/>
<line x1="106.10" y1="113.90" x2="106.10" y2="117.30" stroke="#111" stroke-width="1.10"/>
<line x1="118.68" y1="113.90" x2="118.68" y2="115.50" stroke="#111" stroke-width="1.10"/>
<line x1="126.04" y1="113.90" x2="126.04" y2="115.50" stroke="#111" stroke-width="1.10"/>
<line x1="131.27" y1="113.90" x2="131.27" y2="115.50" stroke="#111" stroke-width="1.10"/>
<line x1="135.32" y1="113.90" x2="135.32" y2="115.50" stroke="#111" stroke-width="1.10"/>
<line x1="138.63" y1="113.90" x2="138.63" y2="115.50" stroke="#111" stroke-width="1.10"/>
<line x1="141.43" y1="113.90" x2="141.43" y2="115.50" stroke="#111" stroke-width="1.10"/>
<line x1="143.85" y1="113.90" x2="143.85" y2="115.50" stroke="#111" stroke-width="1.10"/>
<line x1="145.99" y1="113.90" x2="145.99" y2="115.50" stroke="#111" stroke-width="1.10"/>
<line x1="147.90" y1="113.90" x2="147.90" y2="117.30" stroke="#111" stroke-width="1.10"/>
<line x1="160.48" y1="113.90" x2="160.48" y2="115.50" stroke="#111" stroke-width="1.10"/>
<line x1="167.84" y1="113.90" x2="167.84" y2="115.50" stroke="#111" stroke-width="1.10"/>
<line x1="173.07" y1="113.90" x2="173.07" y2="115.50" stroke="#111" stroke-width="1.10"/>
<line x1="177.12" y1="113.90" x2="177.12" y2="115.50" stroke="#111" stroke-width="1.10"/>
<line x1="180.43" y1="113.90" x2="180.43" y2="115.50" stroke="#111" stroke-width="1.10"/>
<line x1="183.23" y1="113.90" x2="183.23" y2="115.50" stroke="#111" stroke-width="1.10"/>
<line x1="185.65" y1="113.90" x2="185.65" y2="115.50" stroke="#111" stroke-width="1.10"/>
<line x1="187.79" y1="113.90" x2="187.79" y2="115.50" stroke="#111" stroke-width="1.10"/>
<line x1="189.70" y1="113.90" x2="189.70" y2="117.30" stroke="#111" stroke-width="1.10"/>
<line x1="202.28" y1="113.90" x2="202.28" y2="115.50" stroke="#111" stroke-width="1.10"/>
<line x1="209.64" y1="113.90" x2="209.64" y2="115.50" stroke="#111" stroke-width="1.10"/>
<line x1="214.87" y1="113.90" x2="214.87" y2="115.50" stroke="#111" stroke-width="1.10"/>
<line x1="218.92" y1="113.90" x2="218.92" y2="115.50" stroke="#111" stroke-width="1.10"/>
<line x1="222.23" y1="113.90" x2="222.23" y2="115.50" stroke="#111" stroke-width="1.10"/>
<line x1="225.03" y1="113.90" x2="225.03" y2="115.50" stroke="#111" stroke-width="1.10"/>
<line x1="227.45" y1="113.90" x2="227.45" y2="115.50" stroke="#111" stroke-width="1.10"/>
<line x1="229.59" y1="113.90" x2="229.59" y2="115.50" stroke="#111" stroke-width="1.10"/>
<line x1="231.50" y1="113.90" x2="231.50" y2="117.30" stroke="#111" stroke-width="1.10"/>
<line x1="244.08" y1="113.90" x2="244.08" y2="115.50" stroke="#111" stroke-width="1.10"/>
<line x1="282.98" y1="22.10" x2="513.33" y2="22.10" stroke="#111" stroke-width="1.55"/>
<line x1="282.98" y1="113.90" x2="513.33" y2="113.90" stroke="#111" stroke-width="1.55"/>
<line x1="283.60" y1="21.33" x2="283.60" y2="117.50" stroke="#111" stroke-width="1.25"/>
<line x1="512.70" y1="21.33" x2="512.70" y2="114.68" stroke="#111" stroke-width="1.25"/>
<line x1="280.40" y1="113.90" x2="283.60" y2="113.90" stroke="#111" stroke-width="1.10"/>
<line x1="282.00" y1="109.50" x2="283.60" y2="109.50" stroke="#111" stroke-width="1.10"/>
<line x1="282.00" y1="105.10" x2="283.60" y2="105.10" stroke="#111" stroke-width="1.10"/>
<line x1="282.00" y1="100.70" x2="283.60" y2="100.70" stroke="#111" stroke-width="1.10"/>
<line x1="280.40" y1="96.30" x2="283.60" y2="96.30" stroke="#111" stroke-width="1.10"/>
<line x1="282.00" y1="91.90" x2="283.60" y2="91.90" stroke="#111" stroke-width="1.10"/>
<line x1="282.00" y1="87.50" x2="283.60" y2="87.50" stroke="#111" stroke-width="1.10"/>
<line x1="282.00" y1="83.10" x2="283.60" y2="83.10" stroke="#111" stroke-width="1.10"/>
<line x1="280.40" y1="78.70" x2="283.60" y2="78.70" stroke="#111" stroke-width="1.10"/>
<line x1="282.00" y1="74.30" x2="283.60" y2="74.30" stroke="#111" stroke-width="1.10"/>
<line x1="282.00" y1="69.90" x2="283.60" y2="69.90" stroke="#111" stroke-width="1.10"/>
<line x1="282.00" y1="65.50" x2="283.60" y2="65.50" stroke="#111" stroke-width="1.10"/>
<line x1="280.40" y1="61.10" x2="283.60" y2="61.10" stroke="#111" stroke-width="1.10"/>
<line x1="282.00" y1="56.70" x2="283.60" y2="56.70" stroke="#111" stroke-width="1.10"/>
<line x1="282.00" y1="52.30" x2="283.60" y2="52.30" stroke="#111" stroke-width="1.10"/>
<line x1="282.00" y1="47.90" x2="283.60" y2="47.90" stroke="#111" stroke-width="1.10"/>
<line x1="280.40" y1="43.50" x2="283.60" y2="43.50" stroke="#111" stroke-width="1.10"/>
<line x1="282.00" y1="39.10" x2="283.60" y2="39.10" stroke="#111" stroke-width="1.10"/>
<line x1="282.00" y1="34.70" x2="283.60" y2="34.70" stroke="#111" stroke-width="1.10"/>
<line x1="282.00" y1="30.30" x2="283.60" y2="30.30" stroke="#111" stroke-width="1.10"/>
<line x1="280.40" y1="25.90" x2="283.60" y2="25.90" stroke="#111" stroke-width="1.10"/>
<line x1="296.10" y1="113.90" x2="296.10" y2="115.50" stroke="#111" stroke-width="1.10"/>
<line x1="304.92" y1="113.90" x2="304.92" y2="115.50" stroke="#111" stroke-width="1.10"/>
<line x1="310.08" y1="113.90" x2="310.08" y2="115.50" stroke="#111" stroke-width="1.10"/>
<line x1="313.74" y1="113.90" x2="313.74" y2="115.50" stroke="#111" stroke-width="1.10"/>
<line x1="316.58" y1="113.90" x2="316.58" y2="115.50" stroke="#111" stroke-width="1.10"/>
<line x1="318.90" y1="113.90" x2="318.90" y2="115.50" stroke="#111" stroke-width="1.10"/>
<line x1="320.86" y1="113.90" x2="320.86" y2="115.50" stroke="#111" stroke-width="1.10"/>
<line x1="322.56" y1="113.90" x2="322.56" y2="115.50" stroke="#111" stroke-width="1.10"/>
<line x1="324.06" y1="113.90" x2="324.06" y2="115.50" stroke="#111" stroke-width="1.10"/>
<line x1="325.40" y1="113.90" x2="325.40" y2="117.30" stroke="#111" stroke-width="1.10"/>
<line x1="337.98" y1="113.90" x2="337.98" y2="115.50" stroke="#111" stroke-width="1.10"/>
<line x1="345.34" y1="113.90" x2="345.34" y2="115.50" stroke="#111" stroke-width="1.10"/>
<line x1="350.57" y1="113.90" x2="350.57" y2="115.50" stroke="#111" stroke-width="1.10"/>
<line x1="354.62" y1="113.90" x2="354.62" y2="115.50" stroke="#111" stroke-width="1.10"/>
<line x1="357.93" y1="113.90" x2="357.93" y2="115.50" stroke="#111" stroke-width="1.10"/>
<line x1="360.73" y1="113.90" x2="360.73" y2="115.50" stroke="#111" stroke-width="1.10"/>
<line x1="363.15" y1="113.90" x2="363.15" y2="115.50" stroke="#111" stroke-width="1.10"/>
<line x1="365.29" y1="113.90" x2="365.29" y2="115.50" stroke="#111" stroke-width="1.10"/>
<line x1="367.20" y1="113.90" x2="367.20" y2="117.30" stroke="#111" stroke-width="1.10"/>
<line x1="379.78" y1="113.90" x2="379.78" y2="115.50" stroke="#111" stroke-width="1.10"/>
<line x1="387.14" y1="113.90" x2="387.14" y2="115.50" stroke="#111" stroke-width="1.10"/>
<line x1="392.37" y1="113.90" x2="392.37" y2="115.50" stroke="#111" stroke-width="1.10"/>
<line x1="396.42" y1="113.90" x2="396.42" y2="115.50" stroke="#111" stroke-width="1.10"/>
<line x1="399.73" y1="113.90" x2="399.73" y2="115.50" stroke="#111" stroke-width="1.10"/>
<line x1="402.53" y1="113.90" x2="402.53" y2="115.50" stroke="#111" stroke-width="1.10"/>
<line x1="404.95" y1="113.90" x2="404.95" y2="115.50" stroke="#111" stroke-width="1.10"/>
<line x1="407.09" y1="113.90" x2="407.09" y2="115.50" stroke="#111" stroke-width="1.10"/>
<line x1="409.00" y1="113.90" x2="409.00" y2="117.30" stroke="#111" stroke-width="1.10"/>
<line x1="421.58" y1="113.90" x2="421.58" y2="115.50" stroke="#111" stroke-width="1.10"/>
<line x1="428.94" y1="113.90" x2="428.94" y2="115.50" stroke="#111" stroke-width="1.10"/>
<line x1="434.17" y1="113.90" x2="434.17" y2="115.50" stroke="#111" stroke-width="1.10"/>
<line x1="438.22" y1="113.90" x2="438.22" y2="115.50" stroke="#111" stroke-width="1.10"/>
<line x1="441.53" y1="113.90" x2="441.53" y2="115.50" stroke="#111" stroke-width="1.10"/>
<line x1="444.33" y1="113.90" x2="444.33" y2="115.50" stroke="#111" stroke-width="1.10"/>
<line x1="446.75" y1="113.90" x2="446.75" y2="115.50" stroke="#111" stroke-width="1.10"/>
<line x1="448.89" y1="113.90" x2="448.89" y2="115.50" stroke="#111" stroke-width="1.10"/>
<line x1="450.80" y1="113.90" x2="450.80" y2="117.30" stroke="#111" stroke-width="1.10"/>
<line x1="463.38" y1="113.90" x2="463.38" y2="115.50" stroke="#111" stroke-width="1.10"/>
<line x1="470.74" y1="113.90" x2="470.74" y2="115.50" stroke="#111" stroke-width="1.10"/>
<line x1="475.97" y1="113.90" x2="475.97" y2="115.50" stroke="#111" stroke-width="1.10"/>
<line x1="480.02" y1="113.90" x2="480.02" y2="115.50" stroke="#111" stroke-width="1.10"/>
<line x1="483.33" y1="113.90" x2="483.33" y2="115.50" stroke="#111" stroke-width="1.10"/>
<line x1="486.13" y1="113.90" x2="486.13" y2="115.50" stroke="#111" stroke-width="1.10"/>
<line x1="488.55" y1="113.90" x2="488.55" y2="115.50" stroke="#111" stroke-width="1.10"/>
<line x1="490.69" y1="113.90" x2="490.69" y2="115.50" stroke="#111" stroke-width="1.10"/>
<line x1="492.60" y1="113.90" x2="492.60" y2="117.30" stroke="#111" stroke-width="1.10"/>
<line x1="505.18" y1="113.90" x2="505.18" y2="115.50" stroke="#111" stroke-width="1.10"/>
<line x1="21.88" y1="124.00" x2="252.32" y2="124.00" stroke="#111" stroke-width="1.55"/>
<line x1="21.88" y1="216.00" x2="252.32" y2="216.00" stroke="#111" stroke-width="1.55"/>
<line x1="22.50" y1="123.22" x2="22.50" y2="219.60" stroke="#111" stroke-width="1.25"/>
<line x1="251.70" y1="123.22" x2="251.70" y2="216.78" stroke="#111" stroke-width="1.25"/>
<line x1="19.30" y1="216.00" x2="22.50" y2="216.00" stroke="#111" stroke-width="1.10"/>
<line x1="20.90" y1="210.53" x2="22.50" y2="210.53" stroke="#111" stroke-width="1.10"/>
<line x1="20.90" y1="205.05" x2="22.50" y2="205.05" stroke="#111" stroke-width="1.10"/>
<line x1="20.90" y1="199.57" x2="22.50" y2="199.57" stroke="#111" stroke-width="1.10"/>
<line x1="19.30" y1="194.10" x2="22.50" y2="194.10" stroke="#111" stroke-width="1.10"/>
<line x1="20.90" y1="188.62" x2="22.50" y2="188.62" stroke="#111" stroke-width="1.10"/>
<line x1="20.90" y1="183.15" x2="22.50" y2="183.15" stroke="#111" stroke-width="1.10"/>
<line x1="20.90" y1="177.68" x2="22.50" y2="177.68" stroke="#111" stroke-width="1.10"/>
<line x1="19.30" y1="172.20" x2="22.50" y2="172.20" stroke="#111" stroke-width="1.10"/>
<line x1="20.90" y1="166.72" x2="22.50" y2="166.72" stroke="#111" stroke-width="1.10"/>
<line x1="20.90" y1="161.25" x2="22.50" y2="161.25" stroke="#111" stroke-width="1.10"/>
<line x1="20.90" y1="155.78" x2="22.50" y2="155.78" stroke="#111" stroke-width="1.10"/>
<line x1="19.30" y1="150.30" x2="22.50" y2="150.30" stroke="#111" stroke-width="1.10"/>
<line x1="20.90" y1="144.82" x2="22.50" y2="144.82" stroke="#111" stroke-width="1.10"/>
<line x1="20.90" y1="139.35" x2="22.50" y2="139.35" stroke="#111" stroke-width="1.10"/>
<line x1="20.90" y1="133.88" x2="22.50" y2="133.88" stroke="#111" stroke-width="1.10"/>
<line x1="19.30" y1="128.40" x2="22.50" y2="128.40" stroke="#111" stroke-width="1.10"/>
<line x1="35.00" y1="216.00" x2="35.00" y2="217.60" stroke="#111" stroke-width="1.10"/>
<line x1="43.82" y1="216.00" x2="43.82" y2="217.60" stroke="#111" stroke-width="1.10"/>
<line x1="48.98" y1="216.00" x2="48.98" y2="217.60" stroke="#111" stroke-width="1.10"/>
<line x1="52.64" y1="216.00" x2="52.64" y2="217.60" stroke="#111" stroke-width="1.10"/>
<line x1="55.48" y1="216.00" x2="55.48" y2="217.60" stroke="#111" stroke-width="1.10"/>
<line x1="57.80" y1="216.00" x2="57.80" y2="217.60" stroke="#111" stroke-width="1.10"/>
<line x1="59.76" y1="216.00" x2="59.76" y2="217.60" stroke="#111" stroke-width="1.10"/>
<line x1="61.46" y1="216.00" x2="61.46" y2="217.60" stroke="#111" stroke-width="1.10"/>
<line x1="62.96" y1="216.00" x2="62.96" y2="217.60" stroke="#111" stroke-width="1.10"/>
<line x1="64.30" y1="216.00" x2="64.30" y2="219.40" stroke="#111" stroke-width="1.10"/>
<line x1="76.88" y1="216.00" x2="76.88" y2="217.60" stroke="#111" stroke-width="1.10"/>
<line x1="84.24" y1="216.00" x2="84.24" y2="217.60" stroke="#111" stroke-width="1.10"/>
<line x1="89.47" y1="216.00" x2="89.47" y2="217.60" stroke="#111" stroke-width="1.10"/>
<line x1="93.52" y1="216.00" x2="93.52" y2="217.60" stroke="#111" stroke-width="1.10"/>
<line x1="96.83" y1="216.00" x2="96.83" y2="217.60" stroke="#111" stroke-width="1.10"/>
<line x1="99.63" y1="216.00" x2="99.63" y2="217.60" stroke="#111" stroke-width="1.10"/>
<line x1="102.05" y1="216.00" x2="102.05" y2="217.60" stroke="#111" stroke-width="1.10"/>
<line x1="104.19" y1="216.00" x2="104.19" y2="217.60" stroke="#111" stroke-width="1.10"/>
<line x1="106.10" y1="216.00" x2="106.10" y2="219.40" stroke="#111" stroke-width="1.10"/>
<line x1="118.68" y1="216.00" x2="118.68" y2="217.60" stroke="#111" stroke-width="1.10"/>
<line x1="126.04" y1="216.00" x2="126.04" y2="217.60" stroke="#111" stroke-width="1.10"/>
<line x1="131.27" y1="216.00" x2="131.27" y2="217.60" stroke="#111" stroke-width="1.10"/>
<line x1="135.32" y1="216.00" x2="135.32" y2="217.60" stroke="#111" stroke-width="1.10"/>
<line x1="138.63" y1="216.00" x2="138.63" y2="217.60" stroke="#111" stroke-width="1.10"/>
<line x1="141.43" y1="216.00" x2="141.43" y2="217.60" stroke="#111" stroke-width="1.10"/>
<line x1="143.85" y1="216.00" x2="143.85" y2="217.60" stroke="#111" stroke-width="1.10"/>
<line x1="145.99" y1="216.00" x2="145.99" y2="217.60" stroke="#111" stroke-width="1.10"/>
<line x1="147.90" y1="216.00" x2="147.90" y2="219.40" stroke="#111" stroke-width="1.10"/>
<line x1="160.48" y1="216.00" x2="160.48" y2="217.60" stroke="#111" stroke-width="1.10"/>
<line x1="167.84" y1="216.00" x2="167.84" y2="217.60" stroke="#111" stroke-width="1.10"/>
<line x1="173.07" y1="216.00" x2="173.07" y2="217.60" stroke="#111" stroke-width="1.10"/>
<line x1="177.12" y1="216.00" x2="177.12" y2="217.60" stroke="#111" stroke-width="1.10"/>
<line x1="180.43" y1="216.00" x2="180.43" y2="217.60" stroke="#111" stroke-width="1.10"/>
<line x1="183.23" y1="216.00" x2="183.23" y2="217.60" stroke="#111" stroke-width="1.10"/>
<line x1="185.65" y1="216.00" x2="185.65" y2="217.60" stroke="#111" stroke-width="1.10"/>
<line x1="187.79" y1="216.00" x2="187.79" y2="217.60" stroke="#111" stroke-width="1.10"/>
<line x1="189.70" y1="216.00" x2="189.70" y2="219.40" stroke="#111" stroke-width="1.10"/>
<line x1="202.28" y1="216.00" x2="202.28" y2="217.60" stroke="#111" stroke-width="1.10"/>
<line x1="209.64" y1="216.00" x2="209.64" y2="217.60" stroke="#111" stroke-width="1.10"/>
<line x1="214.87" y1="216.00" x2="214.87" y2="217.60" stroke="#111" stroke-width="1.10"/>
<line x1="218.92" y1="216.00" x2="218.92" y2="217.60" stroke="#111" stroke-width="1.10"/>
<line x1="222.23" y1="216.00" x2="222.23" y2="217.60" stroke="#111" stroke-width="1.10"/>
<line x1="225.03" y1="216.00" x2="225.03" y2="217.60" stroke="#111" stroke-width="1.10"/>
<line x1="227.45" y1="216.00" x2="227.45" y2="217.60" stroke="#111" stroke-width="1.10"/>
<line x1="229.59" y1="216.00" x2="229.59" y2="217.60" stroke="#111" stroke-width="1.10"/>
<line x1="231.50" y1="216.00" x2="231.50" y2="219.40" stroke="#111" stroke-width="1.10"/>
<line x1="244.08" y1="216.00" x2="244.08" y2="217.60" stroke="#111" stroke-width="1.10"/>
<line x1="282.98" y1="124.00" x2="513.33" y2="124.00" stroke="#111" stroke-width="1.55"/>
<line x1="282.98" y1="216.00" x2="513.33" y2="216.00" stroke="#111" stroke-width="1.55"/>
<line x1="283.60" y1="123.22" x2="283.60" y2="219.60" stroke="#111" stroke-width="1.25"/>
<line x1="512.70" y1="123.22" x2="512.70" y2="216.78" stroke="#111" stroke-width="1.25"/>
<line x1="280.40" y1="216.00" x2="283.60" y2="216.00" stroke="#111" stroke-width="1.10"/>
<line x1="282.00" y1="210.53" x2="283.60" y2="210.53" stroke="#111" stroke-width="1.10"/>
<line x1="282.00" y1="205.05" x2="283.60" y2="205.05" stroke="#111" stroke-width="1.10"/>
<line x1="282.00" y1="199.57" x2="283.60" y2="199.57" stroke="#111" stroke-width="1.10"/>
<line x1="280.40" y1="194.10" x2="283.60" y2="194.10" stroke="#111" stroke-width="1.10"/>
<line x1="282.00" y1="188.62" x2="283.60" y2="188.62" stroke="#111" stroke-width="1.10"/>
<line x1="282.00" y1="183.15" x2="283.60" y2="183.15" stroke="#111" stroke-width="1.10"/>
<line x1="282.00" y1="177.68" x2="283.60" y2="177.68" stroke="#111" stroke-width="1.10"/>
<line x1="280.40" y1="172.20" x2="283.60" y2="172.20" stroke="#111" stroke-width="1.10"/>
<line x1="282.00" y1="166.72" x2="283.60" y2="166.72" stroke="#111" stroke-width="1.10"/>
<line x1="282.00" y1="161.25" x2="283.60" y2="161.25" stroke="#111" stroke-width="1.10"/>
<line x1="282.00" y1="155.78" x2="283.60" y2="155.78" stroke="#111" stroke-width="1.10"/>
<line x1="280.40" y1="150.30" x2="283.60" y2="150.30" stroke="#111" stroke-width="1.10"/>
<line x1="282.00" y1="144.82" x2="283.60" y2="144.82" stroke="#111" stroke-width="1.10"/>
<line x1="282.00" y1="139.35" x2="283.60" y2="139.35" stroke="#111" stroke-width="1.10"/>
<line x1="282.00" y1="133.88" x2="283.60" y2="133.88" stroke="#111" stroke-width="1.10"/>
<line x1="280.40" y1="128.40" x2="283.60" y2="128.40" stroke="#111" stroke-width="1.10"/>
<line x1="296.10" y1="216.00" x2="296.10" y2="217.60" stroke="#111" stroke-width="1.10"/>
<line x1="304.92" y1="216.00" x2="304.92" y2="217.60" stroke="#111" stroke-width="1.10"/>
<line x1="310.08" y1="216.00" x2="310.08" y2="217.60" stroke="#111" stroke-width="1.10"/>
<line x1="313.74" y1="216.00" x2="313.74" y2="217.60" stroke="#111" stroke-width="1.10"/>
<line x1="316.58" y1="216.00" x2="316.58" y2="217.60" stroke="#111" stroke-width="1.10"/>
<line x1="318.90" y1="216.00" x2="318.90" y2="217.60" stroke="#111" stroke-width="1.10"/>
<line x1="320.86" y1="216.00" x2="320.86" y2="217.60" stroke="#111" stroke-width="1.10"/>
<line x1="322.56" y1="216.00" x2="322.56" y2="217.60" stroke="#111" stroke-width="1.10"/>
<line x1="324.06" y1="216.00" x2="324.06" y2="217.60" stroke="#111" stroke-width="1.10"/>
<line x1="325.40" y1="216.00" x2="325.40" y2="219.40" stroke="#111" stroke-width="1.10"/>
<line x1="337.98" y1="216.00" x2="337.98" y2="217.60" stroke="#111" stroke-width="1.10"/>
<line x1="345.34" y1="216.00" x2="345.34" y2="217.60" stroke="#111" stroke-width="1.10"/>
<line x1="350.57" y1="216.00" x2="350.57" y2="217.60" stroke="#111" stroke-width="1.10"/>
<line x1="354.62" y1="216.00" x2="354.62" y2="217.60" stroke="#111" stroke-width="1.10"/>
<line x1="357.93" y1="216.00" x2="357.93" y2="217.60" stroke="#111" stroke-width="1.10"/>
<line x1="360.73" y1="216.00" x2="360.73" y2="217.60" stroke="#111" stroke-width="1.10"/>
<line x1="363.15" y1="216.00" x2="363.15" y2="217.60" stroke="#111" stroke-width="1.10"/>
<line x1="365.29" y1="216.00" x2="365.29" y2="217.60" stroke="#111" stroke-width="1.10"/>
<line x1="367.20" y1="216.00" x2="367.20" y2="219.40" stroke="#111" stroke-width="1.10"/>
<line x1="379.78" y1="216.00" x2="379.78" y2="217.60" stroke="#111" stroke-width="1.10"/>
<line x1="387.14" y1="216.00" x2="387.14" y2="217.60" stroke="#111" stroke-width="1.10"/>
<line x1="392.37" y1="216.00" x2="392.37" y2="217.60" stroke="#111" stroke-width="1.10"/>
<line x1="396.42" y1="216.00" x2="396.42" y2="217.60" stroke="#111" stroke-width="1.10"/>
<line x1="399.73" y1="216.00" x2="399.73" y2="217.60" stroke="#111" stroke-width="1.10"/>
<line x1="402.53" y1="216.00" x2="402.53" y2="217.60" stroke="#111" stroke-width="1.10"/>
<line x1="404.95" y1="216.00" x2="404.95" y2="217.60" stroke="#111" stroke-width="1.10"/>
<line x1="407.09" y1="216.00" x2="407.09" y2="217.60" stroke="#111" stroke-width="1.10"/>
<line x1="409.00" y1="216.00" x2="409.00" y2="219.40" stroke="#111" stroke-width="1.10"/>
<line x1="421.58" y1="216.00" x2="421.58" y2="217.60" stroke="#111" stroke-width="1.10"/>
<line x1="428.94" y1="216.00" x2="428.94" y2="217.60" stroke="#111" stroke-width="1.10"/>
<line x1="434.17" y1="216.00" x2="434.17" y2="217.60" stroke="#111" stroke-width="1.10"/>
<line x1="438.22" y1="216.00" x2="438.22" y2="217.60" stroke="#111" stroke-width="1.10"/>
<line x1="441.53" y1="216.00" x2="441.53" y2="217.60" stroke="#111" stroke-width="1.10"/>
<line x1="444.33" y1="216.00" x2="444.33" y2="217.60" stroke="#111" stroke-width="1.10"/>
<line x1="446.75" y1="216.00" x2="446.75" y2="217.60" stroke="#111" stroke-width="1.10"/>
<line x1="448.89" y1="216.00" x2="448.89" y2="217.60" stroke="#111" stroke-width="1.10"/>
<line x1="450.80" y1="216.00" x2="450.80" y2="219.40" stroke="#111" stroke-width="1.10"/>
<line x1="463.38" y1="216.00" x2="463.38" y2="217.60" stroke="#111" stroke-width="1.10"/>
<line x1="470.74" y1="216.00" x2="470.74" y2="217.60" stroke="#111" stroke-width="1.10"/>
<line x1="475.97" y1="216.00" x2="475.97" y2="217.60" stroke="#111" stroke-width="1.10"/>
<line x1="480.02" y1="216.00" x2="480.02" y2="217.60" stroke="#111" stroke-width="1.10"/>
<line x1="483.33" y1="216.00" x2="483.33" y2="217.60" stroke="#111" stroke-width="1.10"/>
<line x1="486.13" y1="216.00" x2="486.13" y2="217.60" stroke="#111" stroke-width="1.10"/>
<line x1="488.55" y1="216.00" x2="488.55" y2="217.60" stroke="#111" stroke-width="1.10"/>
<line x1="490.69" y1="216.00" x2="490.69" y2="217.60" stroke="#111" stroke-width="1.10"/>
<line x1="492.60" y1="216.00" x2="492.60" y2="219.40" stroke="#111" stroke-width="1.10"/>
<line x1="505.18" y1="216.00" x2="505.18" y2="217.60" stroke="#111" stroke-width="1.10"/>
<line x1="21.88" y1="225.80" x2="252.32" y2="225.80" stroke="#111" stroke-width="1.55"/>
<line x1="21.88" y1="317.90" x2="252.32" y2="317.90" stroke="#111" stroke-width="1.55"/>
<line x1="22.50" y1="225.03" x2="22.50" y2="321.50" stroke="#111" stroke-width="1.25"/>
<line x1="251.70" y1="225.03" x2="251.70" y2="318.67" stroke="#111" stroke-width="1.25"/>
<line x1="19.30" y1="317.90" x2="22.50" y2="317.90" stroke="#111" stroke-width="1.10"/>
<line x1="20.90" y1="313.52" x2="22.50" y2="313.52" stroke="#111" stroke-width="1.10"/>
<line x1="20.90" y1="309.15" x2="22.50" y2="309.15" stroke="#111" stroke-width="1.10"/>
<line x1="20.90" y1="304.77" x2="22.50" y2="304.77" stroke="#111" stroke-width="1.10"/>
<line x1="19.30" y1="300.40" x2="22.50" y2="300.40" stroke="#111" stroke-width="1.10"/>
<line x1="20.90" y1="296.02" x2="22.50" y2="296.02" stroke="#111" stroke-width="1.10"/>
<line x1="20.90" y1="291.65" x2="22.50" y2="291.65" stroke="#111" stroke-width="1.10"/>
<line x1="20.90" y1="287.27" x2="22.50" y2="287.27" stroke="#111" stroke-width="1.10"/>
<line x1="19.30" y1="282.90" x2="22.50" y2="282.90" stroke="#111" stroke-width="1.10"/>
<line x1="20.90" y1="278.52" x2="22.50" y2="278.52" stroke="#111" stroke-width="1.10"/>
<line x1="20.90" y1="274.15" x2="22.50" y2="274.15" stroke="#111" stroke-width="1.10"/>
<line x1="20.90" y1="269.77" x2="22.50" y2="269.77" stroke="#111" stroke-width="1.10"/>
<line x1="19.30" y1="265.40" x2="22.50" y2="265.40" stroke="#111" stroke-width="1.10"/>
<line x1="20.90" y1="261.02" x2="22.50" y2="261.02" stroke="#111" stroke-width="1.10"/>
<line x1="20.90" y1="256.65" x2="22.50" y2="256.65" stroke="#111" stroke-width="1.10"/>
<line x1="20.90" y1="252.27" x2="22.50" y2="252.27" stroke="#111" stroke-width="1.10"/>
<line x1="19.30" y1="247.90" x2="22.50" y2="247.90" stroke="#111" stroke-width="1.10"/>
<line x1="20.90" y1="243.52" x2="22.50" y2="243.52" stroke="#111" stroke-width="1.10"/>
<line x1="20.90" y1="239.15" x2="22.50" y2="239.15" stroke="#111" stroke-width="1.10"/>
<line x1="20.90" y1="234.77" x2="22.50" y2="234.77" stroke="#111" stroke-width="1.10"/>
<line x1="19.30" y1="230.40" x2="22.50" y2="230.40" stroke="#111" stroke-width="1.10"/>
<line x1="35.00" y1="317.90" x2="35.00" y2="319.50" stroke="#111" stroke-width="1.10"/>
<line x1="43.82" y1="317.90" x2="43.82" y2="319.50" stroke="#111" stroke-width="1.10"/>
<line x1="48.98" y1="317.90" x2="48.98" y2="319.50" stroke="#111" stroke-width="1.10"/>
<line x1="52.64" y1="317.90" x2="52.64" y2="319.50" stroke="#111" stroke-width="1.10"/>
<line x1="55.48" y1="317.90" x2="55.48" y2="319.50" stroke="#111" stroke-width="1.10"/>
<line x1="57.80" y1="317.90" x2="57.80" y2="319.50" stroke="#111" stroke-width="1.10"/>
<line x1="59.76" y1="317.90" x2="59.76" y2="319.50" stroke="#111" stroke-width="1.10"/>
<line x1="61.46" y1="317.90" x2="61.46" y2="319.50" stroke="#111" stroke-width="1.10"/>
<line x1="62.96" y1="317.90" x2="62.96" y2="319.50" stroke="#111" stroke-width="1.10"/>
<line x1="64.30" y1="317.90" x2="64.30" y2="321.30" stroke="#111" stroke-width="1.10"/>
<line x1="76.88" y1="317.90" x2="76.88" y2="319.50" stroke="#111" stroke-width="1.10"/>
<line x1="84.24" y1="317.90" x2="84.24" y2="319.50" stroke="#111" stroke-width="1.10"/>
<line x1="89.47" y1="317.90" x2="89.47" y2="319.50" stroke="#111" stroke-width="1.10"/>
<line x1="93.52" y1="317.90" x2="93.52" y2="319.50" stroke="#111" stroke-width="1.10"/>
<line x1="96.83" y1="317.90" x2="96.83" y2="319.50" stroke="#111" stroke-width="1.10"/>
<line x1="99.63" y1="317.90" x2="99.63" y2="319.50" stroke="#111" stroke-width="1.10"/>
<line x1="102.05" y1="317.90" x2="102.05" y2="319.50" stroke="#111" stroke-width="1.10"/>
<line x1="104.19" y1="317.90" x2="104.19" y2="319.50" stroke="#111" stroke-width="1.10"/>
<line x1="106.10" y1="317.90" x2="106.10" y2="321.30" stroke="#111" stroke-width="1.10"/>
<line x1="118.68" y1="317.90" x2="118.68" y2="319.50" stroke="#111" stroke-width="1.10"/>
<line x1="126.04" y1="317.90" x2="126.04" y2="319.50" stroke="#111" stroke-width="1.10"/>
<line x1="131.27" y1="317.90" x2="131.27" y2="319.50" stroke="#111" stroke-width="1.10"/>
<line x1="135.32" y1="317.90" x2="135.32" y2="319.50" stroke="#111" stroke-width="1.10"/>
<line x1="138.63" y1="317.90" x2="138.63" y2="319.50" stroke="#111" stroke-width="1.10"/>
<line x1="141.43" y1="317.90" x2="141.43" y2="319.50" stroke="#111" stroke-width="1.10"/>
<line x1="143.85" y1="317.90" x2="143.85" y2="319.50" stroke="#111" stroke-width="1.10"/>
<line x1="145.99" y1="317.90" x2="145.99" y2="319.50" stroke="#111" stroke-width="1.10"/>
<line x1="147.90" y1="317.90" x2="147.90" y2="321.30" stroke="#111" stroke-width="1.10"/>
<line x1="160.48" y1="317.90" x2="160.48" y2="319.50" stroke="#111" stroke-width="1.10"/>
<line x1="167.84" y1="317.90" x2="167.84" y2="319.50" stroke="#111" stroke-width="1.10"/>
<line x1="173.07" y1="317.90" x2="173.07" y2="319.50" stroke="#111" stroke-width="1.10"/>
<line x1="177.12" y1="317.90" x2="177.12" y2="319.50" stroke="#111" stroke-width="1.10"/>
<line x1="180.43" y1="317.90" x2="180.43" y2="319.50" stroke="#111" stroke-width="1.10"/>
<line x1="183.23" y1="317.90" x2="183.23" y2="319.50" stroke="#111" stroke-width="1.10"/>
<line x1="185.65" y1="317.90" x2="185.65" y2="319.50" stroke="#111" stroke-width="1.10"/>
<line x1="187.79" y1="317.90" x2="187.79" y2="319.50" stroke="#111" stroke-width="1.10"/>
<line x1="189.70" y1="317.90" x2="189.70" y2="321.30" stroke="#111" stroke-width="1.10"/>
<line x1="202.28" y1="317.90" x2="202.28" y2="319.50" stroke="#111" stroke-width="1.10"/>
<line x1="209.64" y1="317.90" x2="209.64" y2="319.50" stroke="#111" stroke-width="1.10"/>
<line x1="214.87" y1="317.90" x2="214.87" y2="319.50" stroke="#111" stroke-width="1.10"/>
<line x1="218.92" y1="317.90" x2="218.92" y2="319.50" stroke="#111" stroke-width="1.10"/>
<line x1="222.23" y1="317.90" x2="222.23" y2="319.50" stroke="#111" stroke-width="1.10"/>
<line x1="225.03" y1="317.90" x2="225.03" y2="319.50" stroke="#111" stroke-width="1.10"/>
<line x1="227.45" y1="317.90" x2="227.45" y2="319.50" stroke="#111" stroke-width="1.10"/>
<line x1="229.59" y1="317.90" x2="229.59" y2="319.50" stroke="#111" stroke-width="1.10"/>
<line x1="231.50" y1="317.90" x2="231.50" y2="321.30" stroke="#111" stroke-width="1.10"/>
<line x1="244.08" y1="317.90" x2="244.08" y2="319.50" stroke="#111" stroke-width="1.10"/>
<line x1="282.98" y1="225.80" x2="513.33" y2="225.80" stroke="#111" stroke-width="1.55"/>
<line x1="282.98" y1="317.90" x2="513.33" y2="317.90" stroke="#111" stroke-width="1.55"/>
<line x1="283.60" y1="225.03" x2="283.60" y2="321.50" stroke="#111" stroke-width="1.25"/>
<line x1="512.70" y1="225.03" x2="512.70" y2="318.67" stroke="#111" stroke-width="1.25"/>
<line x1="280.40" y1="317.90" x2="283.60" y2="317.90" stroke="#111" stroke-width="1.10"/>
<line x1="282.00" y1="313.52" x2="283.60" y2="313.52" stroke="#111" stroke-width="1.10"/>
<line x1="282.00" y1="309.15" x2="283.60" y2="309.15" stroke="#111" stroke-width="1.10"/>
<line x1="282.00" y1="304.77" x2="283.60" y2="304.77" stroke="#111" stroke-width="1.10"/>
<line x1="280.40" y1="300.40" x2="283.60" y2="300.40" stroke="#111" stroke-width="1.10"/>
<line x1="282.00" y1="296.02" x2="283.60" y2="296.02" stroke="#111" stroke-width="1.10"/>
<line x1="282.00" y1="291.65" x2="283.60" y2="291.65" stroke="#111" stroke-width="1.10"/>
<line x1="282.00" y1="287.27" x2="283.60" y2="287.27" stroke="#111" stroke-width="1.10"/>
<line x1="280.40" y1="282.90" x2="283.60" y2="282.90" stroke="#111" stroke-width="1.10"/>
<line x1="282.00" y1="278.52" x2="283.60" y2="278.52" stroke="#111" stroke-width="1.10"/>
<line x1="282.00" y1="274.15" x2="283.60" y2="274.15" stroke="#111" stroke-width="1.10"/>
<line x1="282.00" y1="269.77" x2="283.60" y2="269.77" stroke="#111" stroke-width="1.10"/>
<line x1="280.40" y1="265.40" x2="283.60" y2="265.40" stroke="#111" stroke-width="1.10"/>
<line x1="282.00" y1="261.02" x2="283.60" y2="261.02" stroke="#111" stroke-width="1.10"/>
<line x1="282.00" y1="256.65" x2="283.60" y2="256.65" stroke="#111" stroke-width="1.10"/>
<line x1="282.00" y1="252.27" x2="283.60" y2="252.27" stroke="#111" stroke-width="1.10"/>
<line x1="280.40" y1="247.90" x2="283.60" y2="247.90" stroke="#111" stroke-width="1.10"/>
<line x1="282.00" y1="243.52" x2="283.60" y2="243.52" stroke="#111" stroke-width="1.10"/>
<line x1="282.00" y1="239.15" x2="283.60" y2="239.15" stroke="#111" stroke-width="1.10"/>
<line x1="282.00" y1="234.77" x2="283.60" y2="234.77" stroke="#111" stroke-width="1.10"/>
<line x1="280.40" y1="230.40" x2="283.60" y2="230.40" stroke="#111" stroke-width="1.10"/>
<line x1="296.10" y1="317.90" x2="296.10" y2="319.50" stroke="#111" stroke-width="1.10"/>
<line x1="304.92" y1="317.90" x2="304.92" y2="319.50" stroke="#111" stroke-width="1.10"/>
<line x1="310.08" y1="317.90" x2="310.08" y2="319.50" stroke="#111" stroke-width="1.10"/>
<line x1="313.74" y1="317.90" x2="313.74" y2="319.50" stroke="#111" stroke-width="1.10"/>
<line x1="316.58" y1="317.90" x2="316.58" y2="319.50" stroke="#111" stroke-width="1.10"/>
<line x1="318.90" y1="317.90" x2="318.90" y2="319.50" stroke="#111" stroke-width="1.10"/>
<line x1="320.86" y1="317.90" x2="320.86" y2="319.50" stroke="#111" stroke-width="1.10"/>
<line x1="322.56" y1="317.90" x2="322.56" y2="319.50" stroke="#111" stroke-width="1.10"/>
<line x1="324.06" y1="317.90" x2="324.06" y2="319.50" stroke="#111" stroke-width="1.10"/>
<line x1="325.40" y1="317.90" x2="325.40" y2="321.30" stroke="#111" stroke-width="1.10"/>
<line x1="337.98" y1="317.90" x2="337.98" y2="319.50" stroke="#111" stroke-width="1.10"/>
<line x1="345.34" y1="317.90" x2="345.34" y2="319.50" stroke="#111" stroke-width="1.10"/>
<line x1="350.57" y1="317.90" x2="350.57" y2="319.50" stroke="#111" stroke-width="1.10"/>
<line x1="354.62" y1="317.90" x2="354.62" y2="319.50" stroke="#111" stroke-width="1.10"/>
<line x1="357.93" y1="317.90" x2="357.93" y2="319.50" stroke="#111" stroke-width="1.10"/>
<line x1="360.73" y1="317.90" x2="360.73" y2="319.50" stroke="#111" stroke-width="1.10"/>
<line x1="363.15" y1="317.90" x2="363.15" y2="319.50" stroke="#111" stroke-width="1.10"/>
<line x1="365.29" y1="317.90" x2="365.29" y2="319.50" stroke="#111" stroke-width="1.10"/>
<line x1="367.20" y1="317.90" x2="367.20" y2="321.30" stroke="#111" stroke-width="1.10"/>
<line x1="379.78" y1="317.90" x2="379.78" y2="319.50" stroke="#111" stroke-width="1.10"/>
<line x1="387.14" y1="317.90" x2="387.14" y2="319.50" stroke="#111" stroke-width="1.10"/>
<line x1="392.37" y1="317.90" x2="392.37" y2="319.50" stroke="#111" stroke-width="1.10"/>
<line x1="396.42" y1="317.90" x2="396.42" y2="319.50" stroke="#111" stroke-width="1.10"/>
<line x1="399.73" y1="317.90" x2="399.73" y2="319.50" stroke="#111" stroke-width="1.10"/>
<line x1="402.53" y1="317.90" x2="402.53" y2="319.50" stroke="#111" stroke-width="1.10"/>
<line x1="404.95" y1="317.90" x2="404.95" y2="319.50" stroke="#111" stroke-width="1.10"/>
<line x1="407.09" y1="317.90" x2="407.09" y2="319.50" stroke="#111" stroke-width="1.10"/>
<line x1="409.00" y1="317.90" x2="409.00" y2="321.30" stroke="#111" stroke-width="1.10"/>
<line x1="421.58" y1="317.90" x2="421.58" y2="319.50" stroke="#111" stroke-width="1.10"/>
<line x1="428.94" y1="317.90" x2="428.94" y2="319.50" stroke="#111" stroke-width="1.10"/>
<line x1="434.17" y1="317.90" x2="434.17" y2="319.50" stroke="#111" stroke-width="1.10"/>
<line x1="438.22" y1="317.90" x2="438.22" y2="319.50" stroke="#111" stroke-width="1.10"/>
<line x1="441.53" y1="317.90" x2="441.53" y2="319.50" stroke="#111" stroke-width="1.10"/>
<line x1="444.33" y1="317.90" x2="444.33" y2="319.50" stroke="#111" stroke-width="1.10"/>
<line x1="446.75" y1="317.90" x2="446.75" y2="319.50" stroke="#111" stroke-width="1.10"/>
<line x1="448.89" y1="317.90" x2="448.89" y2="319.50" stroke="#111" stroke-width="1.10"/>
<line x1="450.80" y1="317.90" x2="450.80" y2="321.30" stroke="#111" stroke-width="1.10"/>
<line x1="463.38" y1="317.90" x2="463.38" y2="319.50" stroke="#111" stroke-width="1.10"/>
<line x1="470.74" y1="317.90" x2="470.74" y2="319.50" stroke="#111" stroke-width="1.10"/>
<line x1="475.97" y1="317.90" x2="475.97" y2="319.50" stroke="#111" stroke-width="1.10"/>
<line x1="480.02" y1="317.90" x2="480.02" y2="319.50" stroke="#111" stroke-width="1.10"/>
<line x1="483.33" y1="317.90" x2="483.33" y2="319.50" stroke="#111" stroke-width="1.10"/>
<line x1="486.13" y1="317.90" x2="486.13" y2="319.50" stroke="#111" stroke-width="1.10"/>
<line x1="488.55" y1="317.90" x2="488.55" y2="319.50" stroke="#111" stroke-width="1.10"/>
<line x1="490.69" y1="317.90" x2="490.69" y2="319.50" stroke="#111" stroke-width="1.10"/>
<line x1="492.60" y1="317.90" x2="492.60" y2="321.30" stroke="#111" stroke-width="1.10"/>
<line x1="505.18" y1="317.90" x2="505.18" y2="319.50" stroke="#111" stroke-width="1.10"/>
<line x1="21.88" y1="327.60" x2="252.32" y2="327.60" stroke="#111" stroke-width="1.55"/>
<line x1="21.88" y1="420.10" x2="252.32" y2="420.10" stroke="#111" stroke-width="1.55"/>
<line x1="22.50" y1="326.83" x2="22.50" y2="423.70" stroke="#111" stroke-width="1.25"/>
<line x1="251.70" y1="326.83" x2="251.70" y2="420.88" stroke="#111" stroke-width="1.25"/>
<line x1="19.30" y1="420.10" x2="22.50" y2="420.10" stroke="#111" stroke-width="1.10"/>
<line x1="20.90" y1="415.70" x2="22.50" y2="415.70" stroke="#111" stroke-width="1.10"/>
<line x1="20.90" y1="411.30" x2="22.50" y2="411.30" stroke="#111" stroke-width="1.10"/>
<line x1="20.90" y1="406.90" x2="22.50" y2="406.90" stroke="#111" stroke-width="1.10"/>
<line x1="19.30" y1="402.50" x2="22.50" y2="402.50" stroke="#111" stroke-width="1.10"/>
<line x1="20.90" y1="398.10" x2="22.50" y2="398.10" stroke="#111" stroke-width="1.10"/>
<line x1="20.90" y1="393.70" x2="22.50" y2="393.70" stroke="#111" stroke-width="1.10"/>
<line x1="20.90" y1="389.30" x2="22.50" y2="389.30" stroke="#111" stroke-width="1.10"/>
<line x1="19.30" y1="384.90" x2="22.50" y2="384.90" stroke="#111" stroke-width="1.10"/>
<line x1="20.90" y1="380.50" x2="22.50" y2="380.50" stroke="#111" stroke-width="1.10"/>
<line x1="20.90" y1="376.10" x2="22.50" y2="376.10" stroke="#111" stroke-width="1.10"/>
<line x1="20.90" y1="371.70" x2="22.50" y2="371.70" stroke="#111" stroke-width="1.10"/>
<line x1="19.30" y1="367.30" x2="22.50" y2="367.30" stroke="#111" stroke-width="1.10"/>
<line x1="20.90" y1="362.90" x2="22.50" y2="362.90" stroke="#111" stroke-width="1.10"/>
<line x1="20.90" y1="358.50" x2="22.50" y2="358.50" stroke="#111" stroke-width="1.10"/>
<line x1="20.90" y1="354.10" x2="22.50" y2="354.10" stroke="#111" stroke-width="1.10"/>
<line x1="19.30" y1="349.70" x2="22.50" y2="349.70" stroke="#111" stroke-width="1.10"/>
<line x1="20.90" y1="345.30" x2="22.50" y2="345.30" stroke="#111" stroke-width="1.10"/>
<line x1="20.90" y1="340.90" x2="22.50" y2="340.90" stroke="#111" stroke-width="1.10"/>
<line x1="20.90" y1="336.50" x2="22.50" y2="336.50" stroke="#111" stroke-width="1.10"/>
<line x1="19.30" y1="332.10" x2="22.50" y2="332.10" stroke="#111" stroke-width="1.10"/>
<line x1="35.00" y1="420.10" x2="35.00" y2="421.70" stroke="#111" stroke-width="1.10"/>
<line x1="43.82" y1="420.10" x2="43.82" y2="421.70" stroke="#111" stroke-width="1.10"/>
<line x1="48.98" y1="420.10" x2="48.98" y2="421.70" stroke="#111" stroke-width="1.10"/>
<line x1="52.64" y1="420.10" x2="52.64" y2="421.70" stroke="#111" stroke-width="1.10"/>
<line x1="55.48" y1="420.10" x2="55.48" y2="421.70" stroke="#111" stroke-width="1.10"/>
<line x1="57.80" y1="420.10" x2="57.80" y2="421.70" stroke="#111" stroke-width="1.10"/>
<line x1="59.76" y1="420.10" x2="59.76" y2="421.70" stroke="#111" stroke-width="1.10"/>
<line x1="61.46" y1="420.10" x2="61.46" y2="421.70" stroke="#111" stroke-width="1.10"/>
<line x1="62.96" y1="420.10" x2="62.96" y2="421.70" stroke="#111" stroke-width="1.10"/>
<line x1="64.30" y1="420.10" x2="64.30" y2="423.50" stroke="#111" stroke-width="1.10"/>
<line x1="76.88" y1="420.10" x2="76.88" y2="421.70" stroke="#111" stroke-width="1.10"/>
<line x1="84.24" y1="420.10" x2="84.24" y2="421.70" stroke="#111" stroke-width="1.10"/>
<line x1="89.47" y1="420.10" x2="89.47" y2="421.70" stroke="#111" stroke-width="1.10"/>
<line x1="93.52" y1="420.10" x2="93.52" y2="421.70" stroke="#111" stroke-width="1.10"/>
<line x1="96.83" y1="420.10" x2="96.83" y2="421.70" stroke="#111" stroke-width="1.10"/>
<line x1="99.63" y1="420.10" x2="99.63" y2="421.70" stroke="#111" stroke-width="1.10"/>
<line x1="102.05" y1="420.10" x2="102.05" y2="421.70" stroke="#111" stroke-width="1.10"/>
<line x1="104.19" y1="420.10" x2="104.19" y2="421.70" stroke="#111" stroke-width="1.10"/>
<line x1="106.10" y1="420.10" x2="106.10" y2="423.50" stroke="#111" stroke-width="1.10"/>
<line x1="118.68" y1="420.10" x2="118.68" y2="421.70" stroke="#111" stroke-width="1.10"/>
<line x1="126.04" y1="420.10" x2="126.04" y2="421.70" stroke="#111" stroke-width="1.10"/>
<line x1="131.27" y1="420.10" x2="131.27" y2="421.70" stroke="#111" stroke-width="1.10"/>
<line x1="135.32" y1="420.10" x2="135.32" y2="421.70" stroke="#111" stroke-width="1.10"/>
<line x1="138.63" y1="420.10" x2="138.63" y2="421.70" stroke="#111" stroke-width="1.10"/>
<line x1="141.43" y1="420.10" x2="141.43" y2="421.70" stroke="#111" stroke-width="1.10"/>
<line x1="143.85" y1="420.10" x2="143.85" y2="421.70" stroke="#111" stroke-width="1.10"/>
<line x1="145.99" y1="420.10" x2="145.99" y2="421.70" stroke="#111" stroke-width="1.10"/>
<line x1="147.90" y1="420.10" x2="147.90" y2="423.50" stroke="#111" stroke-width="1.10"/>
<line x1="160.48" y1="420.10" x2="160.48" y2="421.70" stroke="#111" stroke-width="1.10"/>
<line x1="167.84" y1="420.10" x2="167.84" y2="421.70" stroke="#111" stroke-width="1.10"/>
<line x1="173.07" y1="420.10" x2="173.07" y2="421.70" stroke="#111" stroke-width="1.10"/>
<line x1="177.12" y1="420.10" x2="177.12" y2="421.70" stroke="#111" stroke-width="1.10"/>
<line x1="180.43" y1="420.10" x2="180.43" y2="421.70" stroke="#111" stroke-width="1.10"/>
<line x1="183.23" y1="420.10" x2="183.23" y2="421.70" stroke="#111" stroke-width="1.10"/>
<line x1="185.65" y1="420.10" x2="185.65" y2="421.70" stroke="#111" stroke-width="1.10"/>
<line x1="187.79" y1="420.10" x2="187.79" y2="421.70" stroke="#111" stroke-width="1.10"/>
<line x1="189.70" y1="420.10" x2="189.70" y2="423.50" stroke="#111" stroke-width="1.10"/>
<line x1="202.28" y1="420.10" x2="202.28" y2="421.70" stroke="#111" stroke-width="1.10"/>
<line x1="209.64" y1="420.10" x2="209.64" y2="421.70" stroke="#111" stroke-width="1.10"/>
<line x1="214.87" y1="420.10" x2="214.87" y2="421.70" stroke="#111" stroke-width="1.10"/>
<line x1="218.92" y1="420.10" x2="218.92" y2="421.70" stroke="#111" stroke-width="1.10"/>
<line x1="222.23" y1="420.10" x2="222.23" y2="421.70" stroke="#111" stroke-width="1.10"/>
<line x1="225.03" y1="420.10" x2="225.03" y2="421.70" stroke="#111" stroke-width="1.10"/>
<line x1="227.45" y1="420.10" x2="227.45" y2="421.70" stroke="#111" stroke-width="1.10"/>
<line x1="229.59" y1="420.10" x2="229.59" y2="421.70" stroke="#111" stroke-width="1.10"/>
<line x1="231.50" y1="420.10" x2="231.50" y2="423.50" stroke="#111" stroke-width="1.10"/>
<line x1="244.08" y1="420.10" x2="244.08" y2="421.70" stroke="#111" stroke-width="1.10"/>
<line x1="282.98" y1="327.60" x2="513.33" y2="327.60" stroke="#111" stroke-width="1.55"/>
<line x1="282.98" y1="420.10" x2="513.33" y2="420.10" stroke="#111" stroke-width="1.55"/>
<line x1="283.60" y1="326.83" x2="283.60" y2="423.70" stroke="#111" stroke-width="1.25"/>
<line x1="512.70" y1="326.83" x2="512.70" y2="420.88" stroke="#111" stroke-width="1.25"/>
<line x1="280.40" y1="420.10" x2="283.60" y2="420.10" stroke="#111" stroke-width="1.10"/>
<line x1="282.00" y1="415.70" x2="283.60" y2="415.70" stroke="#111" stroke-width="1.10"/>
<line x1="282.00" y1="411.30" x2="283.60" y2="411.30" stroke="#111" stroke-width="1.10"/>
<line x1="282.00" y1="406.90" x2="283.60" y2="406.90" stroke="#111" stroke-width="1.10"/>
<line x1="280.40" y1="402.50" x2="283.60" y2="402.50" stroke="#111" stroke-width="1.10"/>
<line x1="282.00" y1="398.10" x2="283.60" y2="398.10" stroke="#111" stroke-width="1.10"/>
<line x1="282.00" y1="393.70" x2="283.60" y2="393.70" stroke="#111" stroke-width="1.10"/>
<line x1="282.00" y1="389.30" x2="283.60" y2="389.30" stroke="#111" stroke-width="1.10"/>
<line x1="280.40" y1="384.90" x2="283.60" y2="384.90" stroke="#111" stroke-width="1.10"/>
<line x1="282.00" y1="380.50" x2="283.60" y2="380.50" stroke="#111" stroke-width="1.10"/>
<line x1="282.00" y1="376.10" x2="283.60" y2="376.10" stroke="#111" stroke-width="1.10"/>
<line x1="282.00" y1="371.70" x2="283.60" y2="371.70" stroke="#111" stroke-width="1.10"/>
<line x1="280.40" y1="367.30" x2="283.60" y2="367.30" stroke="#111" stroke-width="1.10"/>
<line x1="282.00" y1="362.90" x2="283.60" y2="362.90" stroke="#111" stroke-width="1.10"/>
<line x1="282.00" y1="358.50" x2="283.60" y2="358.50" stroke="#111" stroke-width="1.10"/>
<line x1="282.00" y1="354.10" x2="283.60" y2="354.10" stroke="#111" stroke-width="1.10"/>
<line x1="280.40" y1="349.70" x2="283.60" y2="349.70" stroke="#111" stroke-width="1.10"/>
<line x1="282.00" y1="345.30" x2="283.60" y2="345.30" stroke="#111" stroke-width="1.10"/>
<line x1="282.00" y1="340.90" x2="283.60" y2="340.90" stroke="#111" stroke-width="1.10"/>
<line x1="282.00" y1="336.50" x2="283.60" y2="336.50" stroke="#111" stroke-width="1.10"/>
<line x1="280.40" y1="332.10" x2="283.60" y2="332.10" stroke="#111" stroke-width="1.10"/>
<line x1="296.10" y1="420.10" x2="296.10" y2="421.70" stroke="#111" stroke-width="1.10"/>
<line x1="304.92" y1="420.10" x2="304.92" y2="421.70" stroke="#111" stroke-width="1.10"/>
<line x1="310.08" y1="420.10" x2="310.08" y2="421.70" stroke="#111" stroke-width="1.10"/>
<line x1="313.74" y1="420.10" x2="313.74" y2="421.70" stroke="#111" stroke-width="1.10"/>
<line x1="316.58" y1="420.10" x2="316.58" y2="421.70" stroke="#111" stroke-width="1.10"/>
<line x1="318.90" y1="420.10" x2="318.90" y2="421.70" stroke="#111" stroke-width="1.10"/>
<line x1="320.86" y1="420.10" x2="320.86" y2="421.70" stroke="#111" stroke-width="1.10"/>
<line x1="322.56" y1="420.10" x2="322.56" y2="421.70" stroke="#111" stroke-width="1.10"/>
<line x1="324.06" y1="420.10" x2="324.06" y2="421.70" stroke="#111" stroke-width="1.10"/>
<line x1="325.40" y1="420.10" x2="325.40" y2="423.50" stroke="#111" stroke-width="1.10"/>
<line x1="337.98" y1="420.10" x2="337.98" y2="421.70" stroke="#111" stroke-width="1.10"/>
<line x1="345.34" y1="420.10" x2="345.34" y2="421.70" stroke="#111" stroke-width="1.10"/>
<line x1="350.57" y1="420.10" x2="350.57" y2="421.70" stroke="#111" stroke-width="1.10"/>
<line x1="354.62" y1="420.10" x2="354.62" y2="421.70" stroke="#111" stroke-width="1.10"/>
<line x1="357.93" y1="420.10" x2="357.93" y2="421.70" stroke="#111" stroke-width="1.10"/>
<line x1="360.73" y1="420.10" x2="360.73" y2="421.70" stroke="#111" stroke-width="1.10"/>
<line x1="363.15" y1="420.10" x2="363.15" y2="421.70" stroke="#111" stroke-width="1.10"/>
<line x1="365.29" y1="420.10" x2="365.29" y2="421.70" stroke="#111" stroke-width="1.10"/>
<line x1="367.20" y1="420.10" x2="367.20" y2="423.50" stroke="#111" stroke-width="1.10"/>
<line x1="379.78" y1="420.10" x2="379.78" y2="421.70" stroke="#111" stroke-width="1.10"/>
<line x1="387.14" y1="420.10" x2="387.14" y2="421.70" stroke="#111" stroke-width="1.10"/>
<line x1="392.37" y1="420.10" x2="392.37" y2="421.70" stroke="#111" stroke-width="1.10"/>
<line x1="396.42" y1="420.10" x2="396.42" y2="421.70" stroke="#111" stroke-width="1.10"/>
<line x1="399.73" y1="420.10" x2="399.73" y2="421.70" stroke="#111" stroke-width="1.10"/>
<line x1="402.53" y1="420.10" x2="402.53" y2="421.70" stroke="#111" stroke-width="1.10"/>
<line x1="404.95" y1="420.10" x2="404.95" y2="421.70" stroke="#111" stroke-width="1.10"/>
<line x1="407.09" y1="420.10" x2="407.09" y2="421.70" stroke="#111" stroke-width="1.10"/>
<line x1="409.00" y1="420.10" x2="409.00" y2="423.50" stroke="#111" stroke-width="1.10"/>
<line x1="421.58" y1="420.10" x2="421.58" y2="421.70" stroke="#111" stroke-width="1.10"/>
<line x1="428.94" y1="420.10" x2="428.94" y2="421.70" stroke="#111" stroke-width="1.10"/>
<line x1="434.17" y1="420.10" x2="434.17" y2="421.70" stroke="#111" stroke-width="1.10"/>
<line x1="438.22" y1="420.10" x2="438.22" y2="421.70" stroke="#111" stroke-width="1.10"/>
<line x1="441.53" y1="420.10" x2="441.53" y2="421.70" stroke="#111" stroke-width="1.10"/>
<line x1="444.33" y1="420.10" x2="444.33" y2="421.70" stroke="#111" stroke-width="1.10"/>
<line x1="446.75" y1="420.10" x2="446.75" y2="421.70" stroke="#111" stroke-width="1.10"/>
<line x1="448.89" y1="420.10" x2="448.89" y2="421.70" stroke="#111" stroke-width="1.10"/>
<line x1="450.80" y1="420.10" x2="450.80" y2="423.50" stroke="#111" stroke-width="1.10"/>
<line x1="463.38" y1="420.10" x2="463.38" y2="421.70" stroke="#111" stroke-width="1.10"/>
<line x1="470.74" y1="420.10" x2="470.74" y2="421.70" stroke="#111" stroke-width="1.10"/>
<line x1="475.97" y1="420.10" x2="475.97" y2="421.70" stroke="#111" stroke-width="1.10"/>
<line x1="480.02" y1="420.10" x2="480.02" y2="421.70" stroke="#111" stroke-width="1.10"/>
<line x1="483.33" y1="420.10" x2="483.33" y2="421.70" stroke="#111" stroke-width="1.10"/>
<line x1="486.13" y1="420.10" x2="486.13" y2="421.70" stroke="#111" stroke-width="1.10"/>
<line x1="488.55" y1="420.10" x2="488.55" y2="421.70" stroke="#111" stroke-width="1.10"/>
<line x1="490.69" y1="420.10" x2="490.69" y2="421.70" stroke="#111" stroke-width="1.10"/>
<line x1="492.60" y1="420.10" x2="492.60" y2="423.50" stroke="#111" stroke-width="1.10"/>
<line x1="505.18" y1="420.10" x2="505.18" y2="421.70" stroke="#111" stroke-width="1.10"/>
<g stroke="#333333" stroke-width="0.3">
<text x="96.55" y="51.12" font-size="8.45" fill="#333333" textLength="13.65" lengthAdjust="spacingAndGlyphs">193</text>
<text x="167.08" y="50.72" font-size="8.17" fill="#333333" textLength="21.40" lengthAdjust="spacingAndGlyphs">10535</text>
<text x="106.71" y="170.32" font-size="8.31" fill="#333333" textLength="12.96" lengthAdjust="spacingAndGlyphs">291</text>
<text x="150.59" y="159.02" font-size="8.45" fill="#333333" textLength="13.81" lengthAdjust="spacingAndGlyphs">626</text>
<text x="88.55" y="262.82" font-size="8.03" fill="#333333" textLength="13.01" lengthAdjust="spacingAndGlyphs">116</text>
<text x="171.32" y="258.61" font-size="8.73" fill="#333333" textLength="21.37" lengthAdjust="spacingAndGlyphs">21501</text>
<text x="94.98" y="361.11" font-size="8.73" fill="#333333" textLength="13.00" lengthAdjust="spacingAndGlyphs">166</text>
<text x="178.71" y="363.21" font-size="8.87" fill="#333333" textLength="17.54" lengthAdjust="spacingAndGlyphs">2819</text>
<text x="349.37" y="57.31" font-size="8.73" fill="#333333" textLength="13.13" lengthAdjust="spacingAndGlyphs">160</text>
<text x="418.68" y="51.11" font-size="9.01" fill="#333333" textLength="13.52" lengthAdjust="spacingAndGlyphs">846</text>
<text x="349.37" y="161.52" font-size="8.45" fill="#333333" textLength="13.13" lengthAdjust="spacingAndGlyphs">160</text>
<text x="434.82" y="163.91" font-size="8.73" fill="#333333" textLength="21.29" lengthAdjust="spacingAndGlyphs">27940</text>
<text x="349.37" y="263.52" font-size="8.45" fill="#333333" textLength="13.13" lengthAdjust="spacingAndGlyphs">160</text>
<text x="451.74" y="260.72" font-size="8.45" fill="#333333" textLength="17.61" lengthAdjust="spacingAndGlyphs">4138</text>
<text x="348.64" y="368.11" font-size="9.30" fill="#333333" textLength="13.67" lengthAdjust="spacingAndGlyphs">160</text>
<text x="428.87" y="360.91" font-size="8.73" fill="#333333" textLength="17.39" lengthAdjust="spacingAndGlyphs">1680</text>
<text x="259.96" y="70.80" font-size="11.16" fill="#333333" textLength="14.54" lengthAdjust="spacingAndGlyphs">DX</text>
<text x="262.97" y="172.70" font-size="11.01" fill="#333333" textLength="9.19" lengthAdjust="spacingAndGlyphs">IR</text>
<text x="261.69" y="274.50" font-size="10.72" fill="#333333" textLength="10.90" lengthAdjust="spacingAndGlyphs">LE</text>
<text x="260.30" y="376.09" font-size="10.56" fill="#333333" textLength="14.34" lengthAdjust="spacingAndGlyphs">OX</text>
<text transform="translate(35.40,436.6) scale(0.9,1)" x="0" y="0" font-size="8.9" text-anchor="middle" fill="#333333">10<tspan font-size="6" dy="-3.5">0</tspan></text>
<text transform="translate(64.70,436.6) scale(0.9,1)" x="0" y="0" font-size="8.9" text-anchor="middle" fill="#333333">10<tspan font-size="6" dy="-3.5">1</tspan></text>
<text transform="translate(106.50,436.6) scale(0.9,1)" x="0" y="0" font-size="8.9" text-anchor="middle" fill="#333333">10<tspan font-size="6" dy="-3.5">2</tspan></text>
<text transform="translate(148.30,436.6) scale(0.9,1)" x="0" y="0" font-size="8.9" text-anchor="middle" fill="#333333">10<tspan font-size="6" dy="-3.5">3</tspan></text>
<text transform="translate(190.10,436.6) scale(0.9,1)" x="0" y="0" font-size="8.9" text-anchor="middle" fill="#333333">10<tspan font-size="6" dy="-3.5">4</tspan></text>
<text transform="translate(231.90,436.6) scale(0.9,1)" x="0" y="0" font-size="8.9" text-anchor="middle" fill="#333333">10<tspan font-size="6" dy="-3.5">5</tspan></text>
<text transform="translate(296.50,436.6) scale(0.9,1)" x="0" y="0" font-size="8.9" text-anchor="middle" fill="#333333">10<tspan font-size="6" dy="-3.5">0</tspan></text>
<text transform="translate(325.80,436.6) scale(0.9,1)" x="0" y="0" font-size="8.9" text-anchor="middle" fill="#333333">10<tspan font-size="6" dy="-3.5">1</tspan></text>
<text transform="translate(367.60,436.6) scale(0.9,1)" x="0" y="0" font-size="8.9" text-anchor="middle" fill="#333333">10<tspan font-size="6" dy="-3.5">2</tspan></text>
<text transform="translate(409.40,436.6) scale(0.9,1)" x="0" y="0" font-size="8.9" text-anchor="middle" fill="#333333">10<tspan font-size="6" dy="-3.5">3</tspan></text>
<text transform="translate(451.20,436.6) scale(0.9,1)" x="0" y="0" font-size="8.9" text-anchor="middle" fill="#333333">10<tspan font-size="6" dy="-3.5">4</tspan></text>
<text transform="translate(493.00,436.6) scale(0.9,1)" x="0" y="0" font-size="8.9" text-anchor="middle" fill="#333333">10<tspan font-size="6" dy="-3.5">5</tspan></text>
<text x="195.60" y="455.3" font-size="10" fill="#333333" textLength="131.7" lengthAdjust="spacingAndGlyphs">Median fluorescence intensity</text>
<text transform="translate(12.70,239.50) rotate(-90)" font-size="10.0" fill="#333333" textLength="29.53" lengthAdjust="spacingAndGlyphs">Events</text>
</g>
<text x="7.01" y="15.60" font-size="11.88" font-weight="bold" fill="#000" textLength="9.41" lengthAdjust="spacingAndGlyphs">A</text>
<text x="269.20" y="15.90" font-size="12.61" font-weight="bold" fill="#000" textLength="8.29" lengthAdjust="spacingAndGlyphs">B</text>
<rect x="0" y="0" width="520" height="1" fill="#000"/>
<rect x="0" y="0" width="1" height="462" fill="#000"/>
<rect x="518.4" y="0" width="1.6" height="462" fill="#000"/>
<rect x="0" y="460.4" width="520" height="1.6" fill="#000"/>
</svg>
</body></html>
